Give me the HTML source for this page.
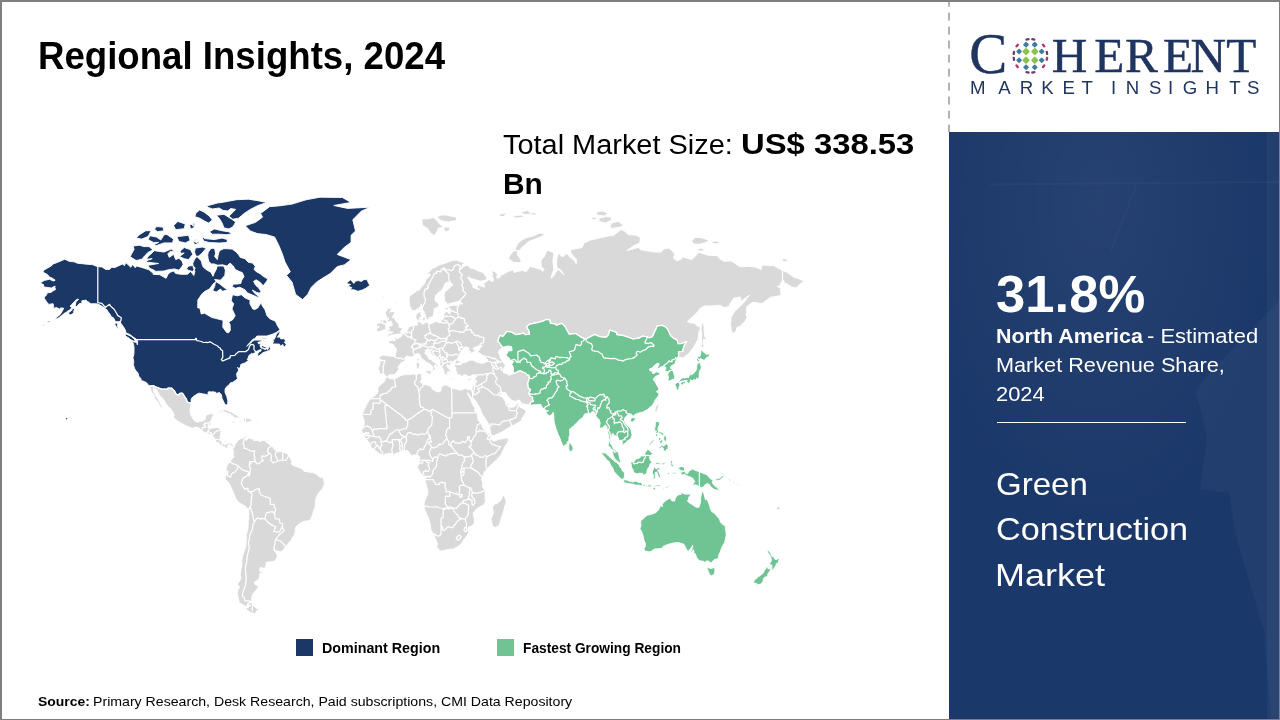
<!DOCTYPE html>
<html lang="en">
<head>
<meta charset="utf-8">
<title>Regional Insights, 2024 - Green Construction Market</title>
<style>
  html,body{margin:0;padding:0;background:#fff;}
  body{width:1280px;height:720px;overflow:hidden;position:relative;font-family:"Liberation Sans",sans-serif;color:#000;}
  .slide{position:absolute;left:0;top:0;width:1280px;height:720px;box-sizing:border-box;background:#fff;overflow:hidden;}
  .frame{position:absolute;left:0;top:0;width:1280px;height:720px;box-sizing:border-box;border-style:solid;border-color:#7f7f7f;border-width:2px 1px 1.5px 2px;pointer-events:none;z-index:9;}
  .t{position:absolute;white-space:nowrap;line-height:1;transform-origin:0 0;margin:0;}
  .b{font-weight:bold;}
  h1.t{font-size:38.3px;font-weight:bold;left:40.5px;top:37px;}
  .panel{position:absolute;left:949px;top:132px;width:331px;height:588px;background:#1b386a;overflow:hidden;}
  .panel svg.tex{position:absolute;left:0;top:0;}
  .panel .t{color:#fff;}
  .divider{position:absolute;left:948.2px;top:2px;width:1.5px;height:130px;background:repeating-linear-gradient(to bottom,#b3b3b3 0,#b3b3b3 8.2px,transparent 8.2px,transparent 14px);background-position:0 -3.4px;}
  .rule{position:absolute;left:997px;top:421.6px;width:189px;height:1.2px;background:#fff;}
  .sw{position:absolute;width:17px;height:17px;top:639px;}
  #map{position:absolute;left:0;top:0;width:1280px;height:720px;}
</style>
</head>
<body>
<div class="slide">

<svg id="map" viewBox="0 0 1280 720" width="1280" height="720" aria-label="World map highlighting North America and Asia Pacific">
<g id="land-other"><path d="M190.1,408.3 190.0,412.2 191.1,415.4 193.6,419.7 194.4,420.7 197.2,422.3 201.0,421.2 202.8,421.1 205.1,419.3 205.5,418.1 205.8,415.7 207.4,414.6 210.6,413.8 212.9,413.8 213.6,414.9 212.1,417.3 212.0,418.5 211.2,422.0 210.5,423.9 209.2,427.3 209.6,428.2 211.0,427.9 213.5,428.0 215.2,427.7 217.3,427.5 218.8,427.9 221.2,429.9 220.8,432.3 220.4,434.7 220.0,437.1 220.1,439.7 221.5,441.9 223.2,443.5 224.8,444.8 228.2,443.5 228.7,443.0 230.5,443.2 232.4,444.4 233.6,445.1 232.4,448.5 231.4,446.5 231.6,445.7 229.0,444.4 228.6,445.1 227.7,445.8 227.1,446.7 228.0,447.9 226.1,448.6 225.6,447.4 224.2,446.6 221.8,446.6 220.9,445.7 220.0,445.2 219.1,443.3 217.6,442.0 217.1,442.9 215.5,441.1 215.3,439.8 215.4,438.9 212.7,436.0 211.6,434.9 212.2,434.0 211.3,434.3 209.8,434.3 207.0,433.4 204.9,432.5 201.9,431.1 201.5,430.6 198.3,427.6 195.5,427.1 192.8,428.3 191.5,427.9 185.5,425.4 182.0,423.5 180.6,422.8 176.1,420.1 173.1,416.8 174.1,416.1 174.0,414.0 171.6,409.8 168.4,406.6 166.0,403.8 164.6,401.0 162.1,397.9 159.8,395.6 158.2,392.8 156.4,389.2 153.7,387.9 153.3,389.9 154.4,393.1 155.5,395.3 158.1,399.4 160.0,402.8 162.3,407.1 164.2,409.2 164.1,410.6 163.5,409.2 159.7,406.3 159.3,405.6 158.4,402.8 156.7,400.8 154.2,398.2 154.6,396.2 152.0,392.7 151.4,391.6 150.0,387.8 148.8,386.0 153.9,385.5 153.7,386.1 161.7,389.1 167.8,389.1 167.8,388.0 171.4,388.0 174.6,390.9 175.9,393.8 178.6,395.2 179.5,393.4 182.3,393.2 183.4,394.3 184.2,395.9 186.4,399.0 187.2,401.8 189.1,402.7 191.4,402.9ZM233.6,445.1 234.8,446.7 234.6,445.2 237.6,441.0 239.1,439.4 240.3,438.8 243.1,438.2 245.8,436.1 246.5,437.6 245.1,439.3 245.9,440.5 247.2,439.5 248.7,438.1 249.3,436.7 249.7,438.3 252.7,439.0 253.6,440.7 255.9,440.5 257.7,440.5 260.6,441.6 261.7,440.8 262.3,440.4 266.6,440.2 265.3,441.4 266.8,442.4 268.7,443.8 270.6,445.4 272.5,446.7 274.6,449.5 276.8,451.7 281.0,451.8 283.4,452.0 287.0,453.9 288.8,455.2 292.0,461.6 291.1,463.5 292.0,464.9 295.4,466.2 297.6,467.0 300.5,468.2 302.8,469.4 304.1,471.5 306.0,471.3 309.4,472.3 312.2,472.2 316.5,474.3 319.0,476.7 323.3,477.8 323.5,479.3 324.4,482.5 324.2,484.6 322.5,488.5 321.0,490.5 319.6,491.6 316.5,496.5 315.4,500.8 315.3,504.8 315.0,508.0 313.9,509.8 312.6,514.2 311.1,518.4 309.0,520.7 306.5,520.9 303.3,521.6 299.8,523.4 295.5,527.3 295.1,532.5 294.5,535.0 292.6,536.9 291.3,539.9 287.5,544.2 284.8,548.4 281.4,551.7 278.7,551.5 275.2,550.3 274.0,549.1 274.1,550.7 276.8,553.0 276.3,554.4 277.7,555.2 275.8,559.9 273.3,561.5 266.1,562.3 266.1,565.4 264.6,568.3 260.0,567.6 259.7,569.6 260.2,571.6 262.9,571.3 262.9,573.1 260.0,573.1 259.8,574.7 258.8,579.3 254.6,582.1 254.6,584.0 258.0,585.8 258.0,587.8 254.2,592.5 252.5,594.6 251.4,599.6 252.8,601.9 250.4,602.1 247.4,603.4 247.4,604.5 246.5,606.9 244.0,605.6 241.8,604.0 239.3,603.1 238.6,599.3 237.6,594.6 237.8,590.0 239.7,587.0 237.3,584.3 239.7,581.1 240.8,578.2 240.3,574.7 240.8,570.4 241.2,568.2 242.0,565.0 241.6,561.2 242.5,556.5 243.5,553.1 245.8,546.4 246.1,541.2 246.4,538.4 246.1,534.8 247.5,531.1 248.0,526.9 248.4,522.5 248.2,521.0 249.0,513.9 248.6,509.7 246.4,507.7 245.0,506.1 240.8,503.7 238.3,502.1 235.9,498.5 234.0,494.2 230.9,487.1 230.0,484.8 228.2,481.9 225.5,479.8 225.6,477.7 225.1,476.7 227.0,473.9 228.0,472.7 228.2,471.3 225.8,470.8 226.4,467.8 226.9,466.5 227.7,464.1 228.7,463.3 230.5,461.3 231.6,459.5 234.1,456.5 233.3,455.7 233.2,452.6 233.5,450.8 232.4,448.5ZM386.0,377.3 387.3,377.0 390.1,378.9 392.4,378.6 394.3,379.2 397.3,377.6 401.4,375.4 405.0,374.6 409.5,374.6 413.5,374.1 416.9,374.2 419.7,373.2 422.1,373.8 421.2,375.7 421.2,377.3 422.1,378.9 419.9,382.1 421.8,383.2 423.1,384.2 426.8,385.0 430.8,386.3 432.1,389.0 437.0,391.8 440.2,391.6 441.3,390.0 441.3,387.1 444.7,385.0 446.8,385.3 449.8,387.1 452.4,388.4 456.8,389.0 460.5,390.4 462.4,389.5 464.7,388.6 467.5,389.2 469.4,389.7 471.5,389.2 473.0,393.9 472.4,396.2 471.7,398.4 470.3,396.7 468.0,392.7 467.6,393.6 469.2,396.8 470.7,399.6 473.0,405.3 475.0,408.1 474.3,410.3 477.3,412.8 477.9,418.7 478.4,420.9 480.9,422.6 482.9,428.5 486.5,431.1 489.7,434.7 491.0,436.2 490.5,438.1 493.1,441.0 494.6,441.0 498.9,439.3 503.1,438.8 508.0,437.6 508.2,441.0 507.0,443.3 504.8,446.9 501.0,454.7 496.7,459.9 495.2,460.9 489.3,466.5 487.1,469.9 484.3,472.0 483.3,475.2 481.4,479.8 482.4,481.7 482.9,484.5 482.4,486.9 485.2,491.0 485.0,496.5 485.4,501.3 483.7,504.7 477.3,508.3 473.0,513.0 474.3,518.4 474.3,523.1 472.2,525.6 468.8,527.1 468.1,528.4 468.8,530.9 467.7,534.8 464.7,538.4 462.6,542.0 458.1,546.4 453.2,549.1 447.7,549.4 441.3,551.2 437.8,548.8 436.8,546.4 437.6,543.8 435.5,538.6 433.8,535.0 431.0,529.9 429.5,520.6 427.2,515.4 423.8,506.9 424.4,501.8 427.2,495.5 428.0,491.7 426.8,486.4 424.8,479.8 423.8,476.9 419.9,472.0 417.2,467.0 418.7,464.7 419.5,461.1 419.3,456.1 417.6,455.0 416.3,454.7 411.4,455.4 409.3,452.8 408.0,450.7 405.9,450.5 403.7,450.5 400.7,451.7 398.2,452.6 394.1,454.5 390.1,453.1 385.8,454.0 382.2,455.2 378.8,453.1 375.6,450.7 371.9,448.1 370.4,445.5 369.4,443.1 367.0,440.0 365.3,437.4 363.0,436.2 363.2,433.5 361.3,430.6 363.4,427.5 364.5,422.4 363.8,419.0 362.2,415.8 362.6,413.3 364.7,408.6 367.7,402.6 371.1,398.0 374.9,395.7 376.8,394.1 378.1,391.6 377.7,388.7 378.8,386.1 382.4,383.2 384.1,382.1 385.2,379.4ZM473.7,384.0 474.3,382.4 475.0,380.9 474.9,378.1 475.8,375.1 475.4,374.3 474.1,375.3 472.4,374.6 470.9,376.0 468.6,376.6 466.9,375.3 464.1,374.5 463.4,376.2 461.7,376.2 460.7,375.0 459.0,374.6 457.0,374.9 457.0,374.1 456.7,373.1 456.7,371.7 454.7,370.5 456.2,370.1 455.8,369.4 455.6,367.8 456.0,367.1 454.2,367.3 454.5,365.8 454.5,365.5 455.8,364.1 454.2,363.9 453.8,363.4 450.6,363.2 449.8,364.7 450.4,365.4 449.7,365.9 449.2,366.0 447.4,364.1 446.8,365.8 447.7,367.5 448.3,368.3 451.0,370.9 449.8,372.3 448.9,371.5 447.7,371.6 448.7,373.0 447.2,372.6 448.1,375.5 447.2,374.6 446.5,375.7 445.7,374.1 445.3,374.8 444.8,374.2 444.0,372.3 444.1,370.8 443.6,370.5 442.9,368.7 441.7,367.2 441.3,366.2 439.8,364.6 440.1,362.2 439.9,360.6 439.3,359.9 438.2,359.1 437.2,358.3 433.7,355.9 432.5,355.2 431.0,354.1 430.4,351.6 429.4,350.6 428.1,351.9 427.4,350.1 428.0,349.7 424.9,350.3 425.4,351.7 424.8,353.3 425.4,354.3 427.4,355.6 428.9,358.9 433.2,360.5 432.5,361.3 434.6,362.6 436.9,364.0 438.1,365.4 437.7,366.4 437.0,365.7 435.3,364.6 433.8,366.6 435.2,368.4 433.9,370.2 432.8,371.5 432.0,371.1 432.4,369.4 433.0,368.6 432.8,367.6 432.0,365.7 430.5,365.1 430.1,364.0 429.0,363.5 427.5,362.5 425.5,361.7 423.7,359.9 422.3,359.1 421.0,357.5 420.6,355.8 419.5,354.3 417.6,353.3 416.7,353.6 415.7,354.8 414.1,355.3 412.8,356.6 411.2,357.1 410.0,356.5 408.4,356.3 406.5,356.2 405.1,357.3 405.1,358.5 405.7,359.3 405.3,360.6 403.2,361.9 401.3,362.7 400.5,363.8 398.6,365.9 397.9,367.3 399.1,369.3 397.6,370.4 397.1,372.3 393.9,374.8 393.4,374.5 391.1,374.8 389.2,374.8 387.2,376.4 386.7,376.8 385.2,375.3 383.8,373.5 381.7,374.1 379.4,374.0 379.7,371.5 378.9,370.2 378.3,369.2 378.5,367.6 379.7,365.4 380.0,362.6 379.7,359.6 378.8,357.6 380.7,356.3 382.2,355.1 386.5,355.8 390.5,356.0 392.2,356.3 394.4,356.4 395.3,355.9 395.9,352.6 396.4,350.0 396.1,348.2 394.8,347.2 394.0,346.0 393.9,344.9 392.0,344.2 389.3,343.3 388.5,342.5 389.0,341.5 388.4,341.7 388.8,340.9 390.1,340.5 392.2,340.2 394.3,340.7 395.4,340.8 395.2,340.2 394.5,337.4 395.9,337.5 396.3,338.6 398.1,338.7 398.8,338.1 399.0,337.5 400.9,336.8 401.9,336.0 402.0,334.3 402.5,333.6 403.7,333.3 404.8,332.8 405.4,332.4 406.3,332.2 407.1,331.0 407.3,330.3 408.7,327.3 410.1,326.5 411.8,325.9 413.4,326.0 414.0,324.9 415.9,325.4 416.8,325.4 417.2,324.4 417.8,324.3 417.5,323.5 417.1,321.0 416.6,319.1 415.9,317.4 416.1,315.0 416.9,313.6 419.8,312.0 421.2,311.5 421.1,312.5 420.6,314.2 421.9,316.0 420.5,316.9 419.5,318.4 419.0,319.0 418.9,321.3 420.2,322.6 422.3,322.6 421.8,324.1 423.0,324.1 424.4,323.4 425.3,322.5 427.8,322.0 428.0,323.6 429.0,324.2 431.8,323.4 434.4,322.1 436.0,321.4 438.7,322.0 438.4,322.7 440.0,322.8 441.0,321.8 441.2,320.8 443.6,318.3 443.4,315.7 444.6,312.7 446.8,311.4 448.1,312.8 449.9,313.9 450.5,311.5 450.9,309.3 448.8,308.2 448.7,307.3 448.6,306.5 449.9,306.0 451.4,305.6 453.6,305.1 455.1,305.4 458.4,305.5 459.2,304.7 460.6,303.9 463.0,303.9 462.0,303.0 459.9,301.2 456.6,301.8 456.1,302.0 453.3,302.6 451.8,303.1 447.6,304.3 446.1,302.1 444.2,300.8 444.5,299.6 444.5,298.0 444.1,295.5 444.6,292.5 446.8,290.2 447.9,289.7 450.8,286.5 452.9,285.2 451.0,282.5 450.1,282.2 448.0,282.2 445.8,283.0 444.5,284.1 443.9,286.5 441.9,290.1 439.1,292.1 436.9,294.2 435.6,295.0 435.2,297.5 435.1,299.0 435.3,301.3 437.8,302.6 438.5,304.5 438.9,306.1 436.9,307.5 435.1,308.3 434.0,308.6 434.1,311.5 433.7,313.1 433.5,315.1 432.8,316.7 431.9,316.9 430.0,317.4 429.1,317.6 429.2,318.9 428.1,319.3 426.6,319.5 425.9,319.4 426.3,318.7 425.7,317.2 425.2,316.4 426.0,315.2 424.7,313.7 424.0,311.6 422.5,309.4 422.4,307.4 421.8,306.5 421.2,304.2 420.9,306.5 420.0,307.1 418.7,307.7 417.3,309.1 415.7,310.2 413.6,310.7 412.6,310.3 411.4,309.1 410.4,308.0 410.3,307.2 409.8,305.8 409.6,304.5 409.2,302.3 408.9,300.1 409.3,298.0 409.6,295.8 411.6,294.8 415.0,292.5 416.7,290.4 419.1,290.2 420.6,288.0 422.5,285.8 424.6,283.5 425.5,281.4 426.3,279.1 429.3,276.4 430.6,274.3 426.3,273.9 429.5,271.8 432.9,268.1 434.9,267.7 438.3,265.2 441.3,264.3 443.4,263.9 447.7,262.2 453.6,260.2 457.7,260.3 459.4,261.8 460.7,261.5 464.9,263.6 462.1,264.9 462.7,266.3 464.3,266.1 466.9,265.4 469.0,266.2 470.1,268.1 473.5,268.5 477.5,270.6 483.4,272.8 486.5,277.3 486.7,279.5 485.0,280.2 480.7,281.2 471.8,278.7 467.7,277.0 469.0,279.5 472.8,285.5 472.8,287.2 476.5,289.1 479.7,289.5 477.5,288.0 477.5,284.7 480.7,285.9 483.5,286.9 485.0,287.0 483.7,283.4 488.8,279.7 492.5,281.4 492.9,281.8 493.5,278.7 492.2,276.7 492.5,273.5 491.0,270.8 494.6,271.4 497.4,274.3 496.7,278.1 499.9,277.7 500.6,275.1 502.7,274.7 507.4,271.8 513.8,269.6 513.6,272.2 514.4,272.6 517.0,271.4 520.8,270.8 522.3,270.2 526.2,271.8 527.2,270.6 529.8,266.5 536.2,268.1 541.3,269.8 542.6,271.4 544.3,269.4 541.5,266.9 541.1,263.1 541.1,260.0 544.5,256.6 545.8,252.5 547.9,250.3 552.2,252.1 553.9,253.4 552.8,260.9 553.9,269.4 552.2,273.5 551.1,278.3 554.3,275.5 556.0,271.4 558.6,269.8 563.9,274.7 560.7,269.8 557.1,268.1 556.4,263.1 557.1,257.4 558.6,253.0 561.8,256.6 565.0,255.7 563.9,253.9 568.2,254.3 569.2,256.6 574.6,260.9 576.1,263.9 576.7,259.6 571.4,253.9 570.3,249.8 582.0,247.5 584.2,242.9 590.6,240.0 601.2,237.6 609.8,235.7 613.0,235.7 621.1,229.6 624.7,231.2 628.3,234.7 636.4,235.2 640.7,238.1 639.6,242.9 633.2,246.1 626.8,250.7 634.3,248.5 638.6,247.5 640.7,249.8 654.3,252.1 661.0,252.1 664.2,248.9 668.4,248.0 672.7,251.2 674.8,254.3 673.5,258.1 677.0,260.9 681.9,258.7 681.9,256.8 688.7,258.7 691.9,259.6 697.2,254.3 698.9,252.5 707.9,255.2 717.5,255.7 719.6,258.7 723.9,261.3 731.3,260.9 739.5,266.4 742.0,266.9 745.2,266.7 748.4,266.4 754.8,266.9 761.2,269.4 761.8,266.4 762.5,264.8 767.6,265.6 773.6,265.6 781.3,269.8 786.8,272.2 794.3,277.5 797.5,278.3 804.5,281.1 801.7,283.0 798.5,285.3 797.0,287.6 797.0,288.1 791.1,286.8 786.8,283.7 784.7,283.4 783.6,280.2 781.0,282.6 779.3,286.4 777.2,286.3 780.4,288.3 781.0,294.7 780.6,295.6 770.8,297.2 766.5,300.1 761.8,303.8 754.8,302.3 752.7,302.6 749.5,304.4 746.9,306.5 746.3,310.6 746.9,311.3 745.9,314.7 747.0,317.4 744.8,321.5 739.9,326.5 737.0,327.2 736.3,330.3 732.8,333.9 731.3,330.3 730.5,323.9 731.1,317.4 733.1,313.7 735.6,310.6 739.7,306.8 743.9,302.3 746.9,298.3 749.9,295.0 745.9,297.6 740.9,301.5 740.5,296.9 733.5,298.3 732.8,299.4 729.2,305.4 729.6,306.5 723.9,307.5 720.3,305.3 716.4,305.4 710.0,306.1 704.0,306.0 699.4,308.9 698.3,311.3 693.4,315.9 687.2,321.7 690.8,323.0 694.4,323.3 697.9,326.5 699.8,326.5 700.2,329.7 698.9,332.1 697.9,339.6 695.1,344.8 693.2,347.7 690.4,351.6 687.6,354.5 683.4,357.6 682.1,357.9 679.9,357.1 677.6,358.3 677.3,359.3 677.2,359.1 678.7,355.9 678.4,351.9 680.2,351.6 682.5,351.3 684.4,344.8 686.8,341.5 685.9,341.8 681.2,343.6 678.0,343.6 677.0,339.9 673.8,338.4 670.6,335.8 667.4,328.7 665.2,326.8 662.2,325.4 659.5,325.6 656.7,326.2 656.3,328.4 654.6,331.6 653.1,335.3 652.4,336.6 649.0,337.8 647.5,337.0 642.8,336.0 639.6,337.8 633.2,339.0 626.8,336.6 622.6,335.3 616.8,334.7 616.6,332.5 609.8,330.0 608.3,335.0 606.1,337.2 599.7,336.6 594.8,334.4 589.9,336.9 585.9,339.0 584.8,339.0 580.3,336.6 575.6,333.5 569.2,334.1 564.8,326.2 561.8,323.3 556.4,325.2 555.4,323.9 550.5,323.3 549.6,319.7 545.8,319.4 544.1,320.7 537.2,322.6 530.8,323.9 529.1,324.3 526.6,327.2 528.7,330.3 529.6,334.1 525.5,334.7 523.6,333.2 515.9,334.7 512.7,332.8 510.6,331.9 507.0,331.3 502.7,336.6 499.9,335.3 498.6,338.7 497.8,341.5 499.7,343.3 502.1,346.9 503.0,347.2 499.5,350.1 498.4,353.0 499.9,355.3 500.1,357.6 502.5,360.8 504.2,364.1 505.9,365.0 503.8,367.8 502.9,370.2 503.1,372.4 505.9,373.5 509.1,375.1 511.6,374.5 513.6,373.2 513.6,373.1 513.6,373.1 515.5,373.0 518.5,371.1 520.8,370.8 523.4,372.4 525.1,372.7 527.4,375.1 529.0,375.1 529.1,377.8 528.5,381.3 527.6,382.9 528.5,388.7 530.4,389.0 530.3,390.5 528.4,393.0 530.4,396.2 532.6,397.2 532.6,399.8 533.6,401.3 531.5,401.8 530.5,402.3 530.0,404.8 530.0,405.1 527.9,404.6 521.8,403.7 520.2,400.8 518.7,399.9 515.7,401.4 512.3,400.5 509.6,398.2 507.1,395.3 505.6,392.5 502.9,392.6 502.2,392.7 501.0,392.7 500.8,394.3 501.0,394.2 501.8,396.3 502.1,396.7 504.5,400.3 505.7,401.7 505.7,403.8 507.0,406.0 506.8,404.1 507.8,402.4 508.6,404.6 508.7,406.3 510.8,407.5 514.5,406.7 516.4,404.7 518.0,403.1 518.9,401.9 518.8,405.1 519.6,407.0 523.6,408.8 526.2,411.5 523.8,416.0 521.7,418.6 521.9,420.2 518.7,422.4 514.0,425.1 509.9,427.0 503.3,431.1 498.9,433.5 494.6,435.2 491.3,435.6 490.9,434.0 490.2,430.4 489.4,425.3 486.2,420.0 482.1,414.0 479.8,407.6 476.3,402.2 474.7,399.4 472.4,397.7 473.3,393.9 473.0,393.9 471.5,389.2 472.0,388.7 472.7,387.3 473.3,385.3ZM457.3,364.8 460.2,364.7 462.4,363.7 460.5,363.0 458.3,363.0 456.8,363.7 455.6,364.7ZM460.7,362.3 465.1,362.7 469.6,360.2 473.5,360.2 476.5,362.2 480.7,363.2 484.3,363.0 487.3,361.3 487.3,359.3 484.6,357.1 481.8,354.8 480.1,353.3 478.4,352.4 476.9,351.3 478.8,350.4 480.1,348.3 482.2,345.4 479.7,345.4 477.1,346.6 473.7,347.7 473.0,349.2 476.5,350.8 474.1,351.6 472.2,352.7 470.1,353.3 470.3,351.3 467.9,350.4 469.4,348.3 466.6,346.9 464.3,347.2 462.6,349.2 461.7,351.0 460.0,353.0 459.6,355.6 458.1,356.8 457.7,358.8 458.3,360.2 459.4,361.6ZM528.1,266.0 530.0,266.2 529.8,266.5ZM252.3,602.8 253.3,605.0 254.2,606.6 256.8,608.6 259.7,609.4 256.8,610.7 255.0,613.8 250.4,612.2 247.2,610.2 245.0,608.6 248.7,607.3 249.3,605.6 250.8,605.3 248.4,605.0 248.2,603.4 250.4,602.5ZM266.6,440.2 268.7,439.9 268.5,441.6 266.6,441.8ZM503.8,494.1 506.3,502.2 504.8,506.1 504.0,509.8 501.6,517.2 499.1,525.6 495.0,527.4 492.5,525.9 491.0,518.9 493.3,513.5 492.5,507.3 494.4,504.2 497.4,503.2 500.8,500.3 502.5,497.4ZM386.4,336.4 387.7,335.3 388.9,333.4 392.2,332.8 392.8,331.8 391.8,332.1 390.1,331.7 387.3,330.7 389.9,329.1 388.5,327.8 388.7,326.2 390.4,326.1 392.1,325.7 392.4,323.6 390.9,322.3 391.3,321.0 388.3,321.9 387.6,320.7 388.7,319.2 388.5,317.5 386.3,319.7 386.7,317.4 386.9,316.0 385.3,314.9 386.2,314.0 385.2,312.3 386.2,311.1 387.9,308.5 391.4,308.3 392.2,308.4 392.0,309.1 390.8,310.2 389.6,312.3 391.6,311.6 394.3,311.6 394.8,312.3 394.2,313.5 393.4,315.0 393.1,316.4 391.8,317.4 393.3,317.4 394.3,318.1 395.6,320.7 396.1,321.8 397.3,322.3 398.4,323.5 398.9,325.3 399.3,326.7 398.8,327.5 399.7,327.3 401.4,327.4 402.3,328.8 401.5,330.5 400.2,331.8 401.7,332.3 401.5,333.1 400.7,333.7 399.1,334.3 398.3,334.0 396.9,334.3 395.8,334.8 394.5,334.3 393.4,335.0 391.3,334.7 390.8,335.9 389.7,335.5 387.5,336.7ZM382.9,319.4 385.5,320.0 386.4,321.7 387.0,322.6 385.2,323.9 385.6,326.0 385.8,327.3 385.0,329.8 383.8,330.0 381.0,331.0 377.7,332.1 376.3,330.0 377.4,328.6 379.4,326.7 376.8,325.9 376.8,324.0 377.3,323.0 380.3,323.0 381.1,322.0 379.8,321.8 380.9,320.2ZM434.2,235.4 430.6,233.2 427.8,228.7 422.1,225.1 422.1,221.9 421.6,219.0 428.5,218.8 433.4,217.4 437.0,220.4 439.1,223.5 443.4,227.1 438.1,228.2 437.6,230.7 435.5,233.7ZM437.4,216.6 441.3,215.0 446.6,215.0 450.9,216.1 456.6,217.1 456.2,220.4 448.7,221.9 442.3,220.9 438.7,219.3ZM444.0,227.1 448.7,227.1 450.2,229.2 446.6,231.7 444.0,230.7ZM514.4,250.7 512.3,252.5 509.5,256.1 508.4,258.3 511.6,260.9 513.1,262.2 517.0,262.6 521.2,262.6 520.6,259.6 517.6,255.2 517.0,252.5 519.1,251.0ZM514.8,250.3 519.3,250.7 521.9,247.5 525.5,244.3 528.7,241.4 535.1,239.1 541.5,236.6 545.6,233.4 539.4,233.2 533.0,236.1 526.6,237.6 521.2,240.5 517.6,243.8 515.9,247.5ZM779.8,260.9 783.6,258.5 787.9,259.6 787.4,261.3 782.5,261.8ZM703.0,322.6 704.3,327.2 704.0,330.3 704.9,336.6 707.4,340.7 703.8,339.0 703.2,342.7 703.2,344.8 704.6,348.6 703.2,346.9 701.7,348.9 701.2,346.3 701.6,345.5 701.7,341.2 701.5,338.1 701.8,333.8 701.1,330.3 701.2,326.2 702.1,323.3ZM657.9,404.6 658.8,405.3 658.1,407.8 657.1,411.0 656.4,413.1 655.1,411.3 654.8,410.1 655.6,407.1 656.6,405.7 657.1,405.1ZM217.4,413.1 219.4,412.1 221.1,410.5 222.8,410.0 225.4,409.8 228.0,410.6 230.1,411.8 231.4,411.8 233.9,413.8 236.3,414.9 237.3,415.9 239.7,416.9 240.5,417.1 238.4,418.0 236.8,417.8 232.8,418.1 234.1,416.9 233.1,416.0 231.2,415.3 230.4,413.8 228.0,413.4 227.0,412.7 224.8,412.3 223.1,411.1 220.7,412.3 218.8,413.1ZM242.0,418.2 244.6,418.3 245.8,418.0 247.8,418.2 249.5,418.6 251.1,419.5 251.4,420.2 252.9,421.2 251.5,421.7 249.5,421.5 248.0,422.2 246.9,422.2 246.3,423.6 245.6,422.6 243.9,422.2 241.3,422.3 239.8,421.8 240.5,421.1 242.9,421.4 244.3,421.3 243.5,420.0 243.5,419.1ZM231.5,421.9 232.4,421.4 234.6,421.7 236.1,422.6 234.6,423.0 232.9,423.0 231.8,422.3ZM255.3,421.4 258.7,421.7 258.4,422.6 255.3,422.8ZM425.2,371.6 427.1,370.8 431.8,370.6 430.8,372.7 431.2,373.9 430.8,375.0 428.9,373.9 427.5,373.2 425.5,372.5ZM416.1,363.3 418.2,362.3 419.4,363.3 419.4,365.8 419.0,368.2 417.5,368.9 416.5,368.6 416.6,366.1 416.0,364.1ZM418.7,357.3 419.0,359.9 418.3,362.0 417.2,360.5 416.9,359.1 417.3,358.6 418.4,358.2ZM448.8,378.0 450.0,378.0 452.2,378.5 454.7,378.6 454.3,379.4 451.4,379.6 448.9,378.8ZM467.5,379.2 469.6,378.5 472.4,377.6 471.0,379.2 471.3,379.6 470.4,379.7 469.0,380.6 467.7,380.1ZM403.6,366.9 405.2,365.9 406.0,366.6 405.2,367.8 404.1,367.5ZM422.3,318.4 423.8,317.5 425.5,317.0 425.6,318.7 424.6,320.2 423.6,320.8 422.5,320.0ZM419.4,319.0 421.0,318.7 421.7,319.7 421.2,320.5 419.7,320.3ZM437.3,314.0 438.5,311.0 439.8,310.8 438.9,313.0 437.8,314.4ZM445.2,309.6 446.0,307.5 447.7,307.2 448.3,308.6 447.2,309.9 445.5,310.6ZM512.3,435.7 514.8,435.7 514.6,436.3 512.7,436.3ZM395.2,303.7 396.5,300.8 396.9,302.3 396.0,304.0ZM382.8,296.1 384.9,295.2 384.3,298.3ZM498.9,214.4 506.3,212.8 504.2,216.6 499.9,216.6ZM511.6,216.1 521.2,215.0 524.4,217.1 515.9,218.2ZM520.2,212.2 527.6,210.5 531.9,213.9 524.4,214.4ZM530.8,212.2 537.2,213.3 535.1,215.0 531.9,215.0ZM611.9,228.4 620.4,227.1 623.6,225.1 618.3,221.4 611.9,223.0 609.8,226.6ZM599.1,221.4 605.5,223.0 611.9,219.8 610.8,217.1 605.5,216.6 599.1,218.2ZM597.0,215.0 604.4,216.1 607.6,213.3 602.3,210.8 595.9,212.2ZM591.2,219.3 595.9,219.8 596.5,217.7 592.7,217.1ZM691.5,241.0 695.1,237.4 700.4,237.6 704.7,238.8 709.0,240.5 705.8,242.6 699.4,244.3 694.0,244.0ZM711.1,241.4 716.4,241.0 720.3,242.4 716.4,244.0 712.2,243.1ZM696.6,250.1 700.4,248.0 704.7,249.4 702.1,251.2 698.3,250.7ZM231.4,401.0 233.1,401.3 232.4,401.8ZM233.9,401.5 234.4,402.8 233.7,402.8ZM231.8,405.1 232.9,407.1 231.6,406.8ZM237.6,407.1 238.0,407.6 237.3,407.6ZM241.4,415.0 242.9,415.0 242.3,415.5Z" fill="#d9d9d9" fill-rule="evenodd" stroke="#fff" stroke-width="0.9" stroke-linejoin="round"/></g>
<g id="land-north-america"><path d="M56.3,317.4 60.3,314.4 62.9,309.9 63.7,308.2 60.5,307.9 59.7,309.2 56.5,307.5 52.6,308.6 53.7,306.8 53.1,303.7 48.8,304.4 46.7,301.9 44.3,298.3 44.3,297.2 46.7,294.7 47.1,292.8 50.9,292.5 52.8,291.0 55.6,289.5 54.8,287.6 55.2,286.1 51.3,288.0 45.8,287.2 43.7,286.8 43.5,284.5 40.0,283.0 44.3,280.4 49.6,279.3 53.3,281.0 55.2,280.2 51.8,277.9 49.4,277.1 47.7,274.7 42.8,272.0 44.1,269.9 50.9,266.2 53.3,263.9 57.3,262.4 64.8,259.2 69.1,261.3 74.0,261.8 77.6,263.3 82.3,263.7 87.2,264.3 92.3,264.6 97.8,266.7 101.9,266.9 105.7,269.4 109.6,269.4 111.7,267.3 114.9,267.5 122.4,264.1 124.5,265.6 125.8,262.6 130.9,267.3 132.6,264.3 135.2,267.7 136.5,266.0 142.6,267.7 149.0,269.8 153.3,273.5 153.1,274.3 159.7,274.7 166.1,278.3 168.2,273.9 170.4,272.2 173.6,271.0 175.7,273.5 181.0,274.3 187.4,274.3 190.6,271.4 193.8,275.5 194.9,271.4 193.2,267.3 192.8,263.1 194.9,258.7 197.0,256.6 201.3,260.9 202.4,265.2 203.4,267.3 207.1,270.2 210.9,272.2 213.0,276.3 214.1,273.5 216.2,269.4 217.3,266.0 223.7,266.0 225.4,270.2 224.8,275.5 220.5,280.2 214.7,279.5 216.2,281.4 213.0,284.1 209.8,288.7 205.1,291.3 202.2,293.6 197.9,299.8 197.7,307.9 199.8,307.9 201.3,314.0 204.5,313.2 211.7,317.4 223.1,320.3 222.8,327.2 226.7,332.5 228.6,332.8 230.3,330.3 230.1,324.6 228.6,322.0 232.7,319.7 235.2,315.7 232.0,308.9 233.7,303.7 231.2,300.8 232.4,294.7 237.3,295.8 241.4,294.7 245.2,298.0 250.1,300.1 249.9,303.7 252.7,308.9 254.6,309.6 257.8,307.9 261.2,302.3 262.1,305.4 265.1,309.9 267.0,315.7 270.2,319.0 275.1,321.0 276.4,323.3 277.0,324.9 280.0,329.7 276.8,332.2 272.8,334.1 266.8,336.0 257.0,336.0 254.8,338.7 253.3,339.0 249.9,342.4 246.7,346.3 250.4,343.3 252.5,341.3 254.6,340.1 261.7,340.1 261.7,341.2 257.8,342.4 258.7,343.9 261.0,342.7 260.0,345.4 261.0,348.0 262.5,348.3 264.9,349.5 266.6,348.9 267.6,349.8 269.8,345.7 270.2,348.0 270.8,348.9 268.5,350.7 262.9,352.7 258.7,356.2 257.6,355.0 258.2,352.7 261.2,350.7 261.0,349.5 257.6,350.8 255.7,351.9 254.8,352.7 252.9,353.9 251.8,353.3 248.9,355.5 248.0,358.3 247.2,359.2 247.9,360.3 248.2,360.9 248.9,360.0 249.4,361.1 248.0,361.5 246.5,361.7 246.1,362.0 245.2,362.9 241.2,364.2 240.8,364.6 240.5,366.5 239.9,367.6 238.7,368.8 237.5,367.2 238.4,369.1 238.5,370.4 237.9,371.6 236.6,373.7 236.5,374.2 237.5,378.8 235.4,380.5 232.3,382.5 230.3,382.9 229.3,384.8 228.2,385.4 226.0,387.4 225.0,389.6 225.0,391.7 225.2,392.8 226.8,396.6 227.9,401.0 227.7,403.4 227.1,404.8 225.6,405.0 224.3,403.2 224.1,402.4 223.3,401.0 222.2,398.7 221.9,397.7 221.5,394.8 219.4,392.5 216.4,393.4 215.8,392.3 212.6,391.7 210.9,392.0 209.0,391.6 207.9,392.5 208.4,395.2 206.6,394.5 203.9,394.0 202.4,393.8 199.6,393.2 198.4,393.4 196.4,394.4 195.2,395.3 193.0,396.7 191.3,398.7 191.0,401.3 191.4,402.9 189.1,402.7 187.2,401.8 186.4,399.0 184.2,395.9 183.4,394.3 182.3,393.2 179.5,393.4 178.6,395.2 175.9,393.8 174.6,390.9 171.4,388.0 167.8,388.0 167.8,389.1 161.7,389.1 153.7,386.1 153.9,385.5 148.8,386.0 148.5,385.5 147.5,383.6 146.1,382.8 145.8,382.1 144.6,381.8 143.3,381.1 141.6,380.9 141.3,380.6 140.8,378.5 138.6,376.0 138.6,375.1 138.4,374.2 137.3,371.9 136.2,371.3 134.7,368.7 133.3,364.6 133.7,363.6 133.7,360.9 132.9,357.8 133.5,356.3 134.0,352.7 134.0,347.9 133.9,346.0 132.6,341.5 135.4,342.3 136.7,342.4 137.3,344.8 137.7,342.1 137.3,340.4 136.8,339.6 135.8,338.7 132.9,337.0 131.5,335.6 128.8,333.9 126.0,332.9 125.3,329.9 123.7,327.2 120.7,323.0 120.0,321.7 117.0,321.7 115.6,321.8 113.4,317.7 111.3,316.8 109.9,313.9 107.9,311.6 107.1,309.9 105.1,308.5 100.4,305.3 97.0,303.8 91.7,303.7 90.6,303.7 89.3,302.4 87.7,301.7 86.1,300.1 81.8,300.8 82.0,303.8 79.9,303.3 76.6,306.5 74.7,306.6 75.5,304.9 75.9,301.7 78.7,299.4 77.4,299.2 76.1,299.9 75.0,301.2 73.7,302.3 73.1,303.0 71.6,304.7 70.1,306.0 71.7,307.7 69.5,310.3 68.0,310.8 65.9,312.7 65.0,312.8 60.7,316.4 58.4,317.9 55.2,319.4ZM135.5,341.4 134.2,339.0 131.4,336.5 126.9,334.3 124.7,334.2 125.8,336.3 128.5,337.8 130.1,339.2 131.8,340.2 133.3,341.0ZM117.8,323.3 117.5,326.4 119.2,330.5 116.6,327.2 114.8,324.3 114.9,323.1ZM73.5,308.6 74.5,309.6 73.5,311.3 74.1,312.0 72.5,314.0 70.1,314.9 69.5,314.5 68.4,313.0 69.2,312.1 71.0,311.1 71.8,310.3 72.0,309.1ZM49.9,320.7 46.9,321.8 47.5,322.6 50.3,321.7ZM44.1,323.9 42.2,325.6 42.6,326.0 44.3,324.7ZM279.4,331.6 280.2,331.6 279.2,334.4 277.4,337.2 279.6,336.9 280.9,338.9 284.3,338.7 285.6,340.9 284.3,342.4 286.2,344.2 285.3,346.7 284.3,346.6 283.2,346.1 283.0,344.5 281.3,345.7 279.4,346.0 279.8,344.2 277.4,344.0 272.1,343.9 273.8,341.2 272.3,341.2 274.2,339.2 275.1,337.8 276.2,334.7 277.7,332.5ZM261.0,336.9 266.4,338.4 267.0,339.3 263.2,338.6ZM261.2,346.6 262.3,345.7 266.4,347.3 265.3,348.6 262.5,347.9ZM260.2,297.6 256.8,296.9 249.5,293.7 247.2,292.8 245.0,289.8 239.7,287.2 235.4,288.3 232.2,286.8 233.3,284.1 236.9,284.1 240.8,283.4 241.6,280.2 244.0,276.7 242.3,272.6 239.1,271.4 235.2,269.4 233.3,266.0 230.1,263.1 226.9,266.0 222.6,264.8 217.7,265.2 214.1,263.9 211.3,263.9 208.8,261.3 208.1,258.3 207.7,255.2 208.3,252.1 210.9,248.5 214.5,248.2 215.6,253.0 214.7,256.6 217.3,259.6 218.1,255.2 219.4,250.7 223.7,248.7 226.9,248.7 232.2,249.1 236.3,252.1 238.6,254.8 240.3,257.4 245.0,258.7 248.2,262.2 252.7,263.1 255.3,266.4 254.0,269.4 256.1,271.4 260.4,273.9 263.2,276.3 267.8,279.1 266.6,281.4 263.2,285.7 260.0,282.2 256.1,279.8 253.6,281.4 255.7,285.3 258.7,288.0 260.8,291.3 260.0,293.2 256.8,292.5 252.3,290.0 254.6,293.2 257.8,295.8ZM155.7,271.4 164.0,271.0 168.2,269.8 174.4,268.9 178.9,270.2 181.7,266.9 183.2,264.3 181.9,260.9 178.9,258.3 175.7,259.6 173.6,254.3 169.3,257.4 167.8,253.9 170.4,251.2 174.6,252.1 171.4,248.9 164.0,252.1 154.4,250.7 148.0,256.6 146.3,259.2 152.2,258.7 145.8,260.9 147.4,262.2 158.6,263.5 148.4,265.2 148.4,266.4 150.1,268.5 153.3,269.8ZM130.1,256.8 136.2,260.5 141.8,259.2 144.8,255.7 148.0,252.5 152.9,249.8 149.0,246.6 143.7,246.6 139.4,245.2 133.0,246.1 134.1,249.4 132.0,253.0ZM155.9,245.7 164.0,242.9 172.5,242.9 173.6,239.1 167.2,234.7 165.0,234.2 162.9,236.6 160.8,240.0 156.5,237.1 150.1,235.7 148.0,239.5 153.3,242.4 158.6,242.4 154.4,244.3ZM136.2,238.1 141.6,239.1 148.0,236.6 151.2,230.7 145.8,230.7 139.4,234.7ZM185.3,242.9 190.2,240.5 188.5,235.2 182.1,236.1 176.8,236.6 178.9,241.4ZM194.9,244.7 199.2,242.9 197.0,240.0 192.8,241.4ZM201.7,235.7 204.6,238.6 214.3,239.6 222.1,238.1 227.4,239.6 226.9,242.5 219.2,243.0 209.4,242.5 203.6,241.0ZM196.4,256.3 198.5,256.1 201.7,253.4 204.1,250.7 206.2,248.2 202.4,247.1 195.3,248.0 194.5,252.1 195.5,254.8ZM188.5,259.6 192.8,254.3 190.6,249.8 184.2,247.5 180.0,251.2 181.0,253.4 184.2,253.0 179.5,256.6 184.2,258.7ZM192.8,271.4 195.3,268.1 192.8,265.6 188.5,266.0 186.4,268.9 188.9,270.6ZM216.2,281.8 219.4,283.7 224.8,288.0 227.5,289.8 222.6,291.3 220.5,289.1 216.2,292.1 212.6,290.6 214.7,286.4 215.2,283.4ZM206.5,206.0 217.2,203.1 224.0,202.1 236.6,199.7 248.3,199.2 258.0,200.7 266.8,202.6 258.0,205.5 250.3,209.4 244.4,213.3 238.6,218.2 232.8,219.2 228.9,216.2 232.8,212.4 235.7,209.4 230.8,208.5 227.9,210.9 223.0,210.4 219.2,208.0 212.4,208.9 208.5,207.5ZM195.8,213.3 199.7,209.9 204.6,212.4 209.4,216.2 212.4,220.1 208.5,223.0 204.6,221.1 199.7,218.2 194.9,216.7ZM175.7,229.7 184.2,228.7 185.3,224.0 177.8,221.4 173.6,225.6ZM190.6,229.2 194.9,227.1 192.8,224.0 189.6,225.1ZM157.6,231.7 164.0,230.7 162.9,227.1 156.5,226.6 154.4,229.2ZM302.5,299.6 295.6,294.4 292.1,282.2 286.5,275.3 290.3,271.8 285.0,262.0 282.5,254.4 279.0,245.8 274.7,237.1 266.0,234.5 257.4,233.6 250.4,231.0 245.2,225.8 255.6,222.3 262.6,217.1 260.5,213.5 269.5,206.7 279.9,205.8 292.1,204.1 306.0,199.8 319.9,197.2 342.4,197.5 351.1,202.4 333.8,205.5 347.6,208.4 370.2,207.2 361.5,211.0 352.8,219.7 355.5,231.0 351.1,235.3 351.1,242.3 344.2,247.5 337.2,254.4 351.1,259.7 344.2,264.9 337.2,266.6 330.3,273.5 321.6,278.8 316.4,282.2 311.2,287.4 307.7,294.4ZM350.2,289.8 353.8,289.8 358.1,291.3 362.3,290.0 366.2,288.1 369.8,285.3 367.7,281.4 367.5,279.8 364.0,279.5 361.3,281.4 358.5,280.6 355.5,281.0 353.8,283.4 350.6,279.7 347.4,282.2 346.3,283.4 350.6,284.5 347.4,285.9 351.7,287.6ZM66.1,417.3 68.0,418.4 66.7,420.3 65.7,418.7ZM64.4,415.4 65.9,415.9 65.0,416.3ZM61.1,414.0 62.2,414.3 61.5,414.7ZM57.9,412.6 58.7,412.4 58.4,413.1ZM224.0,214.3 231.8,219.2 235.7,222.1 232.8,226.9 228.9,228.9 224.0,227.9 222.1,223.0 219.2,218.2 216.2,215.3 220.1,214.8ZM209.4,231.8 214.3,228.9 222.1,230.8 228.9,231.8 231.8,233.7 226.9,234.7 219.2,234.2 212.4,234.2ZM193.9,239.8 196.5,239.4 198.7,241.0 197.0,242.6 194.2,241.8ZM192.2,223.2 194.6,223.6 194.9,225.8 192.8,226.0Z" fill="#1b3766" fill-rule="evenodd" stroke="#fff" stroke-width="0.9" stroke-linejoin="round"/></g>
<g id="land-asia-pacific"><path d="M675.5,360.9 675.3,363.4 670.8,366.4 670.5,368.2 672.4,369.7 672.9,370.8 673.5,372.0 674.6,376.6 674.6,378.1 674.0,379.2 671.6,379.7 671.0,380.3 668.4,381.3 668.0,380.0 668.5,376.8 667.6,374.6 668.6,372.8 666.7,371.5 664.5,371.1 665.7,369.4 665.7,367.2 663.9,366.2 661.0,366.9 658.0,368.9 656.9,369.3 657.8,367.2 659.3,364.0 658.6,363.3 656.7,363.6 653.7,366.0 652.2,368.2 649.8,368.7 649.7,370.5 652.9,372.0 652.4,373.5 654.3,373.2 656.2,371.8 660.3,373.0 659.8,374.3 655.4,376.6 653.6,378.4 653.3,380.1 655.2,381.6 656.5,384.8 658.6,388.2 658.7,390.0 656.7,391.2 656.3,391.8 658.6,392.8 658.7,394.9 658.0,396.4 656.7,397.9 655.4,399.8 653.8,402.7 652.2,405.7 650.5,406.7 647.6,409.5 644.7,411.0 642.3,412.2 640.8,412.4 637.4,413.4 634.3,414.9 633.7,417.1 632.7,415.5 631.3,414.2 629.7,413.8 629.0,414.0 626.4,415.9 624.5,418.4 624.2,420.9 625.7,422.9 626.1,424.0 628.1,426.2 629.5,427.3 630.9,429.7 631.6,432.9 632.1,435.0 631.5,436.5 631.1,438.2 629.2,439.8 627.0,441.1 626.2,442.6 625.1,443.3 622.0,445.2 622.2,442.9 622.7,441.9 621.4,441.0 620.9,440.6 619.4,440.5 618.1,438.0 617.3,436.8 616.4,436.1 614.7,435.6 613.8,435.7 613.7,434.9 613.1,433.5 611.9,434.0 611.8,435.8 611.5,437.6 610.3,440.8 610.5,443.8 612.1,445.7 613.2,448.6 614.7,449.3 615.8,450.5 616.7,450.9 618.6,453.0 619.2,456.6 620.1,459.9 621.0,462.3 620.1,462.6 619.4,462.6 616.7,460.4 615.7,459.7 614.8,458.5 613.2,455.7 612.6,452.8 612.5,451.2 611.9,450.1 610.8,448.3 609.6,446.6 608.3,447.1 608.3,446.2 608.2,445.2 608.9,442.0 608.9,436.1 608.1,433.5 607.2,429.3 606.8,426.4 605.3,425.1 604.0,426.2 602.1,428.1 600.4,427.9 599.5,427.5 599.8,425.1 600.2,422.6 599.7,421.5 599.1,419.5 596.8,417.4 595.5,415.7 594.7,414.2 594.4,412.1 592.3,411.6 590.6,413.1 588.4,413.7 586.4,413.6 585.2,413.8 584.1,414.5 583.5,417.1 581.7,418.2 579.7,419.6 576.3,423.4 574.1,425.2 574.1,426.3 571.7,427.1 571.2,428.1 569.5,429.2 569.6,431.4 569.9,434.5 568.9,437.3 568.9,440.1 568.9,441.2 568.0,441.2 567.1,442.5 567.7,443.6 565.3,444.8 564.0,446.5 562.7,445.5 561.2,442.0 560.2,438.9 558.3,435.0 556.7,430.4 556.0,428.7 554.9,425.1 553.9,420.3 553.9,416.8 553.5,413.6 553.2,412.3 552.6,413.4 550.0,416.0 548.7,415.5 547.1,413.7 545.7,412.2 548.5,410.6 546.5,410.8 544.1,408.7 542.6,408.1 541.5,405.8 540.7,404.3 536.5,404.8 533.9,404.7 531.5,405.1 530.3,405.2 530.0,405.1 530.0,404.8 530.5,402.3 531.5,401.8 533.6,401.3 532.6,399.8 532.6,397.2 530.4,396.2 528.4,393.0 530.3,390.5 530.4,389.0 528.5,388.7 527.6,382.9 528.5,381.3 529.1,377.8 529.0,375.1 527.4,375.1 525.1,372.7 523.4,372.4 520.8,370.8 518.5,371.1 515.5,373.0 513.6,373.1 513.6,373.1 513.4,367.5 511.6,364.1 513.8,361.6 511.0,361.3 509.1,357.9 507.2,356.8 505.9,353.6 507.4,353.3 508.0,351.0 512.1,350.7 511.6,346.6 507.4,346.0 503.1,347.2 503.0,347.2 502.1,346.9 499.7,343.3 497.8,341.5 498.6,338.7 499.9,335.3 502.7,336.6 507.0,331.3 510.6,331.9 512.7,332.8 515.9,334.7 523.6,333.2 525.5,334.7 529.6,334.1 528.7,330.3 526.6,327.2 529.1,324.3 530.8,323.9 537.2,322.6 544.1,320.7 545.8,319.4 549.6,319.7 550.5,323.3 555.4,323.9 556.4,325.2 561.8,323.3 564.8,326.2 569.2,334.1 575.6,333.5 580.3,336.6 584.8,339.0 585.9,339.0 589.9,336.9 594.8,334.4 599.7,336.6 606.1,337.2 608.3,335.0 609.8,330.0 616.6,332.5 616.8,334.7 622.6,335.3 626.8,336.6 633.2,339.0 639.6,337.8 642.8,336.0 647.5,337.0 649.0,337.8 652.4,336.6 653.1,335.3 654.6,331.6 656.3,328.4 656.7,326.2 659.5,325.6 662.2,325.4 665.2,326.8 667.4,328.7 670.6,335.8 673.8,338.4 677.0,339.9 678.0,343.6 681.2,343.6 685.9,341.8 686.8,341.5 684.4,344.8 682.5,351.3 680.2,351.6 678.4,351.9 678.7,355.9 677.2,359.1 677.3,359.3ZM701.4,350.0 706.4,354.5 708.6,353.5 709.6,356.3 706.6,357.5 704.2,360.4 700.6,358.5 699.4,359.3 697.9,358.8 699.8,360.8 697.6,361.9 696.8,359.6 698.0,356.3 699.8,356.6 700.6,354.6 700.8,351.6ZM699.1,361.5 700.3,361.9 700.5,364.3 701.4,366.8 700.5,370.5 699.4,370.8 699.2,374.1 699.1,377.6 696.9,379.7 696.8,377.8 696.5,379.0 694.8,380.5 694.0,379.3 693.4,380.5 690.9,380.6 690.3,379.6 690.6,381.3 688.2,383.6 686.8,381.6 687.2,380.4 686.6,380.4 684.3,380.8 681.1,381.3 678.9,382.2 677.8,382.2 678.9,380.9 680.4,379.7 681.5,378.3 682.9,377.8 684.8,378.0 687.0,377.4 688.8,377.6 688.6,376.8 690.0,375.1 690.2,373.2 691.5,372.6 690.8,374.6 691.7,374.7 693.5,373.5 695.2,371.5 696.8,368.9 696.6,365.9 697.2,365.3 697.0,364.1 698.0,362.3 698.8,363.4 699.6,362.7ZM685.8,381.5 684.8,384.1 683.5,383.4 682.3,385.5 681.1,384.2 680.2,383.8 681.6,382.5 682.3,381.8 684.5,381.2ZM677.9,382.2 679.6,383.0 679.5,384.1 680.2,385.2 679.5,385.8 679.0,387.6 678.8,389.1 677.3,390.0 676.5,389.3 676.1,388.9 676.3,387.4 675.9,386.6 675.4,385.9 674.7,383.8 675.8,383.4 676.7,383.0ZM633.9,417.6 635.5,418.6 634.4,420.7 632.2,422.2 630.4,421.4 630.4,420.0 631.5,418.1 632.6,417.7ZM569.8,442.3 571.9,445.3 572.9,447.4 573.2,449.0 571.6,451.2 570.5,451.6 569.7,451.3 568.9,449.2 568.7,446.7 569.0,444.3 569.1,442.5ZM655.8,421.3 658.1,421.8 659.1,421.3 659.5,424.3 658.0,427.5 658.0,430.2 658.8,431.8 661.0,432.0 663.1,432.6 663.4,434.7 663.3,435.8 662.2,435.6 660.5,433.3 660.1,434.3 658.2,432.6 656.7,433.3 655.8,432.7 656.5,431.1 655.6,431.4 655.0,430.4 654.3,428.0 654.1,426.7 655.2,427.4 655.2,426.0 655.3,423.7ZM666.3,442.4 668.0,445.5 668.2,446.2 667.8,450.7 666.7,449.0 666.1,450.7 665.9,452.4 665.5,451.2 663.1,450.5 663.5,448.6 661.8,447.1 659.0,449.3 658.8,447.6 660.7,446.2 661.6,445.2 663.5,446.1 664.5,445.5 665.4,444.3 666.3,444.3ZM663.7,435.9 665.9,435.8 666.8,439.0 665.9,441.4 665.0,441.9 663.9,439.8 663.7,438.3ZM658.6,437.4 661.2,438.3 660.1,440.5 658.7,440.8ZM660.7,439.8 662.0,439.8 663.2,438.9 662.2,441.9 661.6,444.1 660.1,443.3 659.7,442.0ZM655.3,433.7 657.1,433.7 657.8,435.7 656.9,436.7 655.8,435.5ZM648.6,445.7 649.2,446.0 652.0,442.9 653.9,440.5 653.7,438.6 652.9,439.8 651.1,442.1 649.4,444.1ZM632.5,460.7 634.0,461.7 635.8,459.0 639.6,458.0 641.8,455.2 643.8,453.8 646.1,451.4 647.8,449.3 649.8,450.5 650.5,451.8 653.0,453.5 650.1,455.6 649.5,457.8 650.3,460.2 652.4,463.2 650.1,463.7 649.2,467.0 647.8,468.6 646.9,471.3 646.7,473.6 643.1,475.4 642.9,473.5 639.6,473.2 637.1,473.9 633.7,472.5 633.1,470.0 631.3,467.0 631.5,465.6 630.9,463.7 631.2,462.1ZM601.9,452.4 605.8,453.3 607.6,455.0 609.1,456.6 611.7,458.7 613.6,460.6 615.0,461.6 616.6,462.5 618.3,464.2 620.0,465.6 619.4,466.5 621.3,468.1 622.4,471.0 624.8,472.7 624.4,475.5 624.2,479.4 623.2,478.6 621.6,479.6 620.2,477.9 616.7,474.6 614.0,471.5 612.6,467.8 610.5,465.1 609.2,461.5 607.1,460.2 603.6,455.8 601.9,453.8ZM623.0,481.6 624.7,479.5 626.4,480.0 630.2,481.4 634.1,482.0 635.1,480.7 636.2,481.4 637.6,481.9 639.1,482.6 642.0,481.9 641.5,482.4 641.8,483.8 642.6,485.0 642.7,486.3 639.6,485.2 635.4,485.1 633.2,484.3 631.1,483.9 630.4,483.8 628.3,483.7 625.6,483.0 623.6,481.8ZM642.7,484.9 644.3,484.6 645.4,485.5 644.3,486.4 643.0,485.7ZM645.7,486.3 646.2,485.0 647.5,485.2 647.3,486.7ZM647.6,485.5 649.4,484.8 650.9,485.2 652.9,485.6 652.4,486.3 650.3,486.7 647.9,487.0ZM654.1,485.5 656.7,485.2 660.5,484.8 661.0,485.4 658.8,486.6 655.6,486.6 654.2,486.4ZM652.4,487.9 654.6,487.6 656.4,489.3 655.0,490.0 652.9,488.7ZM662.0,490.1 663.9,487.7 665.9,486.7 670.1,485.4 669.3,486.3 666.3,488.1 663.9,489.6ZM665.7,461.7 665.0,463.2 663.7,464.7 661.1,464.4 657.8,464.5 655.2,464.4 654.6,466.3 655.0,467.7 656.2,468.9 658.0,467.7 661.8,467.4 660.5,467.8 659.3,469.4 657.5,470.3 659.5,473.4 660.1,474.9 660.7,478.4 658.6,477.1 658.0,475.2 656.7,472.0 655.1,472.7 655.4,476.2 655.5,478.8 653.5,478.8 653.3,477.8 653.7,475.1 652.3,474.0 652.2,472.0 653.9,467.5 654.2,465.1 656.3,463.2 656.5,462.4 658.8,463.1 662.0,463.4 664.2,462.6ZM670.8,460.9 671.6,460.4 673.1,462.1 671.6,463.5 673.5,464.9 672.3,467.5 671.2,465.6 670.6,463.5ZM671.6,472.7 674.8,472.2 677.8,473.6 674.8,473.8 671.8,473.8ZM667.4,473.2 668.9,472.8 669.9,473.6 669.1,474.7 667.6,474.1ZM678.6,467.6 681.2,466.4 684.5,467.6 684.6,471.3 685.9,473.4 687.6,473.5 689.3,470.8 692.5,469.1 694.6,470.0 698.7,471.6 700.0,472.0 705.0,474.0 706.8,474.7 709.6,477.9 711.7,479.5 714.0,481.2 712.2,481.6 712.6,483.3 714.7,486.0 715.4,486.7 717.1,486.9 718.3,489.1 720.5,489.9 719.9,490.7 717.5,490.0 714.3,489.6 712.5,488.1 710.0,486.2 709.5,484.4 706.8,483.6 704.7,485.2 703.6,486.9 704.0,487.1 701.5,487.4 699.4,487.1 698.1,485.7 695.1,484.8 692.2,485.5 693.6,482.9 694.9,481.9 693.2,478.7 690.8,477.2 688.7,476.5 686.3,475.3 683.8,474.2 682.3,475.2 680.2,472.6 683.4,471.5 684.4,471.0 681.2,470.8 679.9,469.4 677.9,468.9ZM714.9,478.8 717.5,478.6 719.2,478.5 721.3,477.2 722.2,475.5 723.5,475.8 723.2,477.4 721.5,478.8 719.6,480.3 717.5,480.4 715.1,479.5ZM720.3,471.7 722.4,472.9 724.5,475.1 725.2,476.8 724.1,475.8 722.0,473.4 720.0,472.2ZM728.4,478.4 730.1,479.5 731.2,481.7 729.9,481.4 728.8,479.8ZM702.6,491.0 704.0,494.1 705.5,499.8 706.8,499.4 708.5,502.4 709.6,505.9 710.2,508.3 711.7,511.6 714.8,513.5 716.8,516.3 719.6,518.9 720.3,522.1 721.3,523.0 723.7,525.2 725.4,525.1 725.3,528.1 725.9,530.9 726.1,533.9 726.3,535.1 725.3,539.4 724.7,542.4 722.4,546.2 721.3,548.7 720.3,552.0 719.0,554.4 718.4,557.4 718.5,558.5 714.3,559.6 710.9,563.0 708.5,561.2 707.1,560.7 704.7,562.2 702.6,561.0 700.6,561.0 698.6,560.0 696.7,557.5 694.9,553.2 693.2,553.4 694.0,551.5 693.2,549.6 692.4,552.0 690.6,552.6 691.9,549.1 692.8,547.0 692.5,545.1 692.1,546.6 690.7,548.3 688.5,551.1 688.7,551.7 687.0,550.4 684.8,545.9 683.8,544.2 678.4,542.5 673.5,543.0 667.4,544.6 663.1,546.4 662.9,548.0 658.6,548.7 654.6,549.0 650.1,551.9 646.0,551.4 644.2,550.1 643.9,547.8 645.2,547.2 645.5,543.8 643.9,539.9 643.0,535.4 642.1,532.7 639.9,528.8 641.0,525.6 640.6,522.1 642.1,517.9 642.6,519.6 644.1,517.5 647.8,515.1 651.6,514.2 655.6,512.7 657.8,510.8 659.3,508.4 660.7,504.7 662.2,506.9 662.2,504.2 663.9,502.5 665.2,501.0 669.4,498.3 671.2,499.6 672.1,501.0 673.8,500.9 675.0,501.0 674.8,499.4 675.9,497.2 677.7,495.1 679.9,494.5 681.4,494.3 679.7,492.3 682.3,493.1 684.8,494.1 688.5,494.1 690.4,494.5 690.7,494.9 688.7,497.2 688.5,499.4 687.4,500.7 688.7,502.5 690.8,503.5 693.0,505.2 696.2,507.3 699.0,507.2 700.2,503.5 700.7,500.1 700.6,497.7 701.2,495.6 701.7,492.6ZM707.2,567.3 710.8,568.6 714.3,567.5 714.9,569.0 714.9,571.6 714.2,574.4 711.7,575.7 710.1,575.4 709.8,574.7 708.3,571.6 707.2,568.7ZM767.0,550.2 767.7,550.1 770.2,552.3 770.9,554.0 771.4,555.2 772.5,557.1 772.6,555.7 773.8,557.1 774.4,558.8 776.1,559.7 778.3,558.6 779.4,559.0 778.3,561.8 778.1,563.3 775.9,564.0 776.4,564.4 774.4,567.9 772.5,569.9 771.4,569.2 771.9,567.6 771.9,565.3 770.4,564.3 769.2,563.4 769.8,562.8 771.0,561.8 771.4,560.1 770.8,557.3 770.1,555.5 768.4,553.2 767.8,552.3ZM767.0,566.8 767.6,567.6 768.1,568.9 770.4,568.2 770.3,570.2 769.1,572.2 767.8,574.0 767.8,576.3 765.5,577.0 763.9,577.9 763.3,579.9 762.8,582.1 760.8,583.9 759.1,584.6 757.7,584.3 755.9,583.3 754.0,583.1 753.6,582.3 754.6,579.6 756.5,578.5 758.2,576.7 759.1,576.3 761.2,574.7 763.2,573.0 763.8,572.3 764.3,570.3 765.7,568.9 765.9,567.6ZM756.1,584.8 757.4,585.2 757.2,586.1 756.1,586.3 755.7,585.5ZM732.4,481.4 734.8,482.9 734.3,483.3 732.4,482.2ZM736.7,483.6 739.5,485.5 739.0,486.0 736.7,484.3ZM776.8,507.6 778.3,507.0 779.8,508.3 778.7,509.2 777.0,508.8Z" fill="#70c494" fill-rule="evenodd" stroke="#fff" stroke-width="0.9" stroke-linejoin="round"/></g>
<g id="borders" fill="none" stroke="#fff" stroke-width="1.25" stroke-linejoin="round" stroke-linecap="round"><path d="M393.9,378.9 394.8,380.8 395.0,382.9 395.8,386.6 393.1,387.1 390.9,388.4 390.8,390.3 388.1,391.3 387.5,393.1 383.7,393.6 380.1,395.6 380.1,399.5M380.1,398.6 370.2,398.6M380.1,399.5 380.1,403.1 373.0,403.1 373.0,409.3 370.9,410.3 370.7,414.5 362.1,414.3M380.1,399.5 388.1,405.4 384.8,405.4 385.9,416.2 386.9,426.7 387.3,427.0 386.8,428.7 378.2,428.7 375.9,429.6 374.4,428.9 373.7,429.0 373.4,430.4 372.6,430.8M372.6,430.8 371.3,429.2 370.0,427.4 367.5,426.0 365.3,426.5 363.2,427.5M388.1,405.4 395.3,410.9 402.5,416.2 403.0,417.4 405.3,418.5 405.3,420.1 407.7,419.8M407.7,419.8 410.7,418.7 416.9,413.9 424.2,409.2M424.2,409.2 423.3,407.6 420.6,406.8 419.8,404.3 419.7,401.5 419.3,398.5 419.6,395.4 418.8,391.8M418.8,391.8 417.9,387.1 416.6,386.1 414.8,384.0 414.6,381.8 416.0,380.4 416.5,378.1 416.1,375.6 416.9,374.1M418.8,391.8 419.9,390.1 420.7,388.0 423.0,386.4 423.1,384.2M452.3,388.2 451.5,389.7 451.7,392.6 451.9,394.5 451.9,412.8M451.9,412.8 465.6,412.8 477.5,412.8M451.9,412.8 451.9,417.7 449.5,417.7 449.5,418.8M449.5,418.8 440.9,414.0 432.4,409.3M432.4,409.3 430.3,410.7 428.8,411.6 427.6,410.2 424.2,409.2M432.4,409.3 430.8,414.5 432.5,416.8 431.7,425.3 428.4,428.3 427.5,431.4 428.4,433.9 429.5,435.1M407.7,419.8 407.7,425.4 406.5,427.1 406.4,428.5 404.5,428.9 401.6,429.1 400.8,430.0 399.4,430.1M399.4,430.1 399.2,431.3 399.5,432.4 400.7,433.9 400.8,435.1 403.2,435.6 403.2,437.3M403.2,437.3 403.9,436.6 404.7,436.6 406.3,437.9M406.3,437.9 406.4,435.8 407.1,434.8 407.4,433.5 407.9,432.9 410.2,432.6 412.4,433.6 413.1,434.4 414.2,434.5 415.2,433.9 417.8,435.1 418.9,435.1 420.2,434.1 421.4,434.1 422.0,433.8 423.2,433.9 424.8,434.6 426.5,433.3 427.5,431.4M399.4,430.1 398.0,430.1 397.5,429.6 396.3,430.0 394.3,431.0 393.9,431.7 392.3,432.8 392.0,433.4 391.1,433.9 390.0,433.6 389.5,434.2 389.2,435.8 387.5,437.8 387.5,438.6 386.9,439.6 387.1,441.0M387.1,441.0 385.7,441.7 385.4,440.7 384.0,441.6 382.3,441.6 381.5,441.4M381.5,441.4 380.8,440.7 380.7,439.7 380.3,439.2 380.7,438.6 379.9,437.6 379.1,436.4 377.5,437.0 376.9,437.5 375.4,436.7 374.5,436.9 374.0,436.1M374.0,436.1 374.1,435.3 374.0,434.4 373.2,433.7 372.7,432.4 372.6,430.8M374.0,436.1 372.6,436.0 371.9,436.3 370.4,435.7 369.4,435.7 365.4,435.6 362.8,436.2M362.6,434.4 364.6,434.4 365.1,434.1 366.3,433.5 367.2,434.0 368.1,434.1 369.1,433.5 368.6,432.8 367.9,433.2 367.3,433.2 366.4,432.6 365.8,432.7 365.3,433.2 362.8,433.3M369.4,435.7 369.3,436.5 369.1,436.8 369.3,437.6 369.0,437.9 368.5,437.9 367.9,438.3 367.3,438.3 366.2,439.5M370.2,444.5 371.5,443.5 371.7,442.8 372.1,442.3 372.7,442.2 373.2,441.8 374.9,441.8 375.5,442.6 375.9,443.6 375.9,444.3 376.2,445.0 376.2,445.8 376.8,445.7M376.8,445.7 375.8,446.8 374.8,448.1 374.1,449.6M376.8,445.7 377.8,445.4 378.7,446.8 378.5,447.8 379.0,448.3 379.6,448.3 380.0,447.4 380.6,447.4M380.6,447.4 380.5,448.1 380.7,449.3 380.3,450.3 380.9,451.0 381.6,451.1 382.5,452.1 382.5,453.0 382.3,453.3 382.2,455.4M380.6,447.4 380.9,447.4 381.1,446.4 380.9,445.9 381.1,445.6 381.9,445.3 381.4,443.4 380.9,442.4 381.0,441.6 381.5,441.4M387.1,441.0 388.0,441.6 388.4,442.3 389.4,442.8 390.1,442.2 391.1,442.1 392.6,442.8M392.6,442.8 393.1,446.1 392.2,448.1 391.7,450.8 392.6,452.9 392.5,454.0M392.6,442.8 392.3,441.0 392.3,439.6 396.0,439.5 397.0,439.7 397.7,439.3 398.6,439.5M398.6,439.5 398.5,440.2 399.4,441.5 399.4,443.2 399.6,445.1 400.1,445.9 399.6,448.1 399.8,449.3 400.4,450.8 400.9,451.8M398.6,439.5 400.5,439.5 400.2,440.8 400.9,441.5 401.7,442.3 401.7,443.5 402.1,444.0 402.1,449.4 402.6,451.2M400.5,439.5 401.2,439.3 401.7,438.2 402.7,438.0 403.2,437.3M406.3,437.9 406.2,438.7 406.7,440.2 406.3,441.1 406.5,441.8 405.5,443.2 404.8,444.0 404.4,445.5 404.5,447.0 404.3,450.9M416.7,454.7 418.3,450.4 418.9,450.3 420.2,448.9 421.0,448.9 422.2,449.9 423.7,449.1 423.9,448.1 424.3,447.1 424.7,445.9 425.8,445.0 426.2,443.3 426.7,442.8 427.0,441.5 427.5,440.0 429.4,438.2 429.5,437.4 429.7,436.9 428.8,436.0 428.9,435.2 429.5,435.1M429.5,435.1 430.4,436.6 430.5,438.2 430.4,439.8 431.6,442.0 430.4,441.9 429.8,442.1 428.8,441.9 428.4,443.0 429.6,444.4 430.6,444.8 430.9,445.8 431.5,447.4M431.5,447.4 431.2,448.0 430.1,450.4 429.6,450.9 429.4,452.7 429.7,453.7 429.5,454.4 430.5,455.7 430.7,456.5 431.5,457.7 432.4,458.5 432.7,460.2M432.7,460.2 432.6,461.5 430.9,461.0 429.2,460.3 426.5,460.2 426.2,460.1 425.0,460.4 423.7,460.1 422.7,460.3 419.1,460.2M422.7,460.3 422.7,463.1 419.6,463.1 418.7,463.2M426.5,460.2 426.3,461.3 426.9,462.5 428.5,462.3 429.1,462.8 428.1,465.5 429.1,466.9 429.4,468.7 429.1,470.3 428.4,471.4 426.6,471.3 425.4,470.2 425.3,471.2 423.8,471.5 423.1,472.1 423.9,473.7 422.1,475.0M432.7,460.2 433.9,458.0 435.1,456.8 436.6,457.2 438.0,457.3 437.8,458.7 437.2,460.0 436.8,461.5 436.5,463.6 436.6,464.9 436.3,465.7 436.2,466.6 436.0,467.3 434.6,468.5 433.6,469.7 432.7,472.0 432.7,474.0 432.2,474.7 431.0,475.9 429.7,477.3 428.9,476.9 428.8,476.3 427.6,476.2 426.9,477.1 426.3,476.9 425.5,476.1 424.9,476.5 423.9,477.5M426.3,476.9 425.5,477.4 425.2,478.0 425.1,479.0 424.4,479.3M424.6,480.0 425.8,479.7 426.4,479.7 427.1,479.5 433.4,479.5 433.9,481.3 434.6,482.7 435.1,483.5 435.9,484.7 437.3,484.5 438.0,484.2 439.2,484.5 439.5,483.9 440.0,482.5 441.3,482.4 441.5,482.0 442.5,482.0 442.3,482.9 445.0,482.8 445.0,484.3 445.4,485.3 445.1,486.7 445.3,488.1 446.0,489.0 445.9,491.9 446.4,491.7 447.3,491.7 448.6,491.4 449.6,491.5 449.8,492.3 449.6,493.4 450.0,494.5 449.6,495.4 449.8,496.3M449.8,496.3 445.4,496.2 445.3,503.9 446.7,505.9 448.1,507.4M448.1,507.4 444.2,508.4 439.0,508.0 437.5,506.9 428.9,507.0 428.6,507.1 427.3,506.1 425.9,506.0 423.3,506.9M448.1,507.4 449.9,506.9 451.2,507.0 452.1,507.5 452.1,507.7 450.9,508.3 450.3,508.3 448.9,509.2 448.1,508.2 444.8,509.1 443.2,509.2 443.1,517.9 441.0,518.0 441.0,525.3 441.0,534.6 439.1,536.0 438.0,536.2 436.7,535.7 435.7,535.5 435.3,534.4 434.5,533.7 433.4,535.0M441.0,525.3 441.6,525.7 442.9,528.1 442.7,529.6 443.2,530.5 444.7,530.2 445.8,529.1 446.8,528.3 447.3,527.1 448.3,526.6 449.2,526.9 450.2,527.6 452.0,527.7 453.3,527.1 453.6,526.3 453.9,525.1 455.1,524.9 455.7,524.0 456.4,522.3 458.4,520.4 461.4,518.6M461.4,518.6 458.4,517.1 457.7,515.5 457.7,514.7 456.8,514.4 454.4,511.7 453.7,510.3 453.3,509.9 452.5,507.9 452.1,507.7M452.5,507.9 454.9,508.2 455.6,508.5 456.3,508.4 457.5,506.8 459.3,504.8 460.1,504.6 460.4,503.8 461.6,502.8 463.2,502.5M463.2,502.5 463.3,503.4 465.1,503.4 466.1,503.9 466.5,504.5 467.6,504.6 468.7,505.4 468.7,508.5 468.2,510.2 468.2,512.0 468.5,512.8 468.3,514.2 467.9,514.4 467.4,516.2 465.1,519.0M465.1,519.0 464.0,518.8 463.3,519.1 462.2,518.6 461.4,518.6M465.1,519.0 466.2,522.5 466.7,524.3 466.3,527.1 466.5,528.0 465.4,527.5 464.8,527.7 464.6,528.4 464.0,529.4 464.1,530.3 465.3,531.7 466.6,531.4 467.0,530.2 466.8,529.1 466.5,528.0M467.0,530.2 468.9,530.4M460.4,535.9 461.2,536.7 460.5,537.9 460.1,538.8 458.9,539.2 458.6,540.0 457.8,540.3 456.2,538.3 457.3,536.7 458.5,535.6 459.5,535.1 460.4,535.9M449.8,492.3 450.3,491.6 450.5,492.3 452.8,492.5 453.5,493.5 455.2,493.9 456.5,493.1 457.0,494.4 458.7,494.7 459.4,495.7 460.3,497.1 462.0,497.1 461.8,494.5 461.2,494.9 459.7,494.0 459.1,493.6 459.4,491.2 459.8,488.4 459.3,487.3 459.9,485.8 460.5,485.5 463.3,485.1 464.2,485.3 465.1,485.9 465.9,486.3 467.3,486.7 468.5,487.5M468.5,487.5 469.5,488.5 470.0,490.6 469.7,491.2 469.2,493.1 469.7,495.1 469.0,495.9 468.3,498.2 469.4,498.8 463.0,500.8 463.2,502.5M469.4,498.8 470.7,500.0 471.2,499.7 472.1,500.3 472.2,501.3 471.8,502.4 471.9,504.1 473.3,505.6 474.0,504.0 474.9,503.5 474.7,500.3 473.8,498.6 473.1,497.8 472.3,497.9 471.7,494.7 472.3,492.9M472.3,492.9 471.7,489.7 471.0,488.6 470.6,487.9 468.5,487.5M472.3,492.9 473.9,492.7 476.5,493.4 477.1,493.1 478.5,493.0 479.3,492.3 480.6,492.4 482.9,491.4 485.0,490.1M464.2,468.0 470.9,467.8 471.3,468.1 479.0,472.9 479.2,474.3 482.4,476.7M464.2,468.0 463.5,468.3 464.3,469.6 464.2,471.0 463.6,471.3 463.7,472.2 464.2,472.8 464.2,473.5 463.7,474.0 462.8,475.3 462.1,476.1 461.2,476.2 461.6,478.4 461.4,479.6 461.8,481.0 463.0,482.3 464.2,485.3M463.6,471.3 462.5,471.2 461.8,472.5 460.5,472.3 460.7,471.0 461.0,470.8 461.1,469.4 461.7,468.8 462.2,469.0 463.5,468.3M460.5,472.3 461.1,473.4 461.2,476.2M461.7,468.8 461.7,467.0 462.2,466.1 462.3,464.2 462.8,463.1 463.6,461.9 464.4,461.2 465.1,460.4 464.2,460.1 464.4,457.3M470.9,467.8 470.9,465.3 471.5,464.4 472.6,462.8 473.3,461.1 472.4,458.4 472.1,457.2 471.1,455.6M464.4,457.3 465.3,456.7 466.6,457.2 468.3,456.6 469.8,456.6 471.1,455.6 472.4,454.1 473.9,452.6 475.0,453.0 475.0,454.3 475.7,455.1 477.2,455.1 479.9,457.1 481.1,457.0 483.0,457.5 483.6,456.5 485.6,455.5 486.4,456.3 487.9,456.3M487.9,456.3 486.0,459.0 486.0,467.6 487.4,469.6M487.9,456.3 488.5,455.6 489.8,455.6 491.7,453.9 494.5,453.8 500.5,446.7 498.7,446.7 491.8,443.9 491.0,443.0 490.2,441.9 489.8,439.7M489.8,439.7 489.4,439.3 488.8,439.4 487.7,439.4 487.6,438.7 487.5,438.0 488.2,436.9 488.9,435.8 490.7,435.5M489.8,439.7 490.9,438.3M488.9,435.8 488.2,435.0 487.3,433.7 486.4,432.9 485.8,432.0 484.0,431.1 482.5,431.1 482.0,430.5 480.7,431.1 479.5,430.0 478.8,431.8 476.3,431.3M476.3,431.3 476.1,430.4 477.0,426.8 477.2,425.2 477.9,424.4 479.4,424.0 480.7,422.5M476.3,431.3 476.0,433.4 475.1,435.7 473.8,436.9 472.9,438.8 472.7,439.7 471.7,440.4 471.0,442.9M471.0,442.9 471.1,445.1 470.8,445.8 469.6,445.8 468.9,447.2 470.2,447.4 471.3,448.5 471.7,449.4 472.6,450.0 473.9,452.6M449.6,445.2 450.2,444.9 450.9,444.5 451.5,442.4 452.1,441.3 453.6,440.9 454.0,441.6 455.1,443.0 456.4,442.8 458.0,442.9 458.3,443.3 460.4,443.3 460.5,442.9 461.6,442.4 461.8,441.7 462.6,441.2 464.4,442.6 465.5,442.4 466.5,440.6 467.7,439.3 467.5,437.9 467.0,437.2 468.3,437.1 468.4,436.5 469.4,436.7 469.2,438.5 469.4,440.2 470.5,441.1 470.8,442.0 471.0,442.9M449.6,445.2 451.0,446.1 452.2,447.1 452.2,447.9 453.6,449.1 454.5,450.1 455.1,451.5 456.6,452.5 457.0,453.2M457.0,453.2 458.3,455.2 459.2,455.5 459.8,455.1 460.8,455.2 462.0,454.7 462.5,455.7 464.4,457.3M457.0,453.2 456.3,453.5 454.9,453.4 453.3,453.2 452.5,453.4 452.2,453.9 451.5,454.0 450.7,453.5 448.3,454.7 447.3,454.5 447.0,454.7 446.4,456.1 444.8,455.6 443.2,455.4 441.9,454.5 440.1,453.7 439.0,454.5 438.1,455.7 438.0,457.3M431.5,447.4 433.0,447.9 433.3,447.3 433.7,447.3 434.2,447.8 436.9,446.9 437.8,446.0 438.9,445.2 438.7,444.3 439.3,444.1 441.4,444.3 443.4,443.1 444.9,440.5 446.0,439.6 447.4,439.2M447.4,439.2 447.6,440.2 448.8,441.7 448.9,442.7 448.5,443.6 448.6,444.4 449.4,445.1 449.6,445.2M447.4,439.2 446.6,437.9 446.6,436.5 446.1,435.6 445.4,435.7 445.6,434.8 446.2,433.8 445.9,432.8 446.6,432.1 446.2,431.5 446.7,430.1 447.7,428.3 449.6,428.4 449.5,418.8M471.5,389.0 473.0,394.0M510.4,360.9 511.5,360.3 514.0,359.3 515.4,360.1 516.9,362.3 518.0,362.1M518.0,362.1 517.9,351.6 523.4,349.8 523.8,350.1 527.1,352.2 528.8,353.3 530.9,355.9 533.4,355.5 537.0,355.2 539.6,357.4 539.4,360.2 540.5,360.2 540.9,362.5 543.6,362.6 544.2,364.0 545.0,363.9 545.9,361.9 548.7,360.0 550.0,359.4M550.0,359.4 550.4,358.2 551.8,357.8 555.4,358.8 555.7,357.1 556.9,356.5 559.9,357.7 560.7,357.4 564.2,357.5 567.4,357.7 568.5,358.8 569.8,359.2M569.8,359.2 569.6,357.6 571.1,356.8 569.2,351.8 573.4,350.6 574.5,350.0 576.0,344.7 580.2,345.7 581.4,344.3 581.5,341.3 583.3,341.0 584.9,339.0M518.0,362.1 520.4,362.1 520.0,360.7 521.9,359.7 523.7,358.1 526.5,359.6 526.8,361.8 527.6,362.4 529.9,362.3 530.6,362.8 531.6,365.7 534.1,367.6 535.5,368.9 537.7,370.2 540.6,371.4 540.5,373.1M540.5,373.1 539.8,373.0 538.8,372.3 538.5,373.2 536.7,373.8 536.3,375.9 535.1,376.7 533.4,377.1 532.9,378.4 531.3,378.7 529.2,377.7M540.5,373.1 541.7,373.1 543.3,373.7M543.3,373.7 544.5,370.9 544.0,368.9 542.4,368.2 543.0,367.0 544.8,367.1 545.8,365.6 546.5,363.8 549.3,363.1 548.9,364.4 549.2,365.2 550.1,365.1M550.1,365.1 551.7,365.4 554.4,363.4 551.9,361.9 550.4,362.6 548.8,361.5 550.6,359.7 550.0,359.4M550.1,365.1 549.3,366.0 547.0,365.5 546.8,367.1 549.1,366.9 551.7,367.8 555.8,367.4M555.8,367.4 556.1,366.1 558.1,364.8 559.6,364.2 561.8,364.6 562.6,362.8 565.4,362.5 566.1,361.4 569.5,359.9 569.8,359.2M555.8,367.4 556.3,369.9 557.0,369.7 558.3,370.3 558.2,371.4 558.5,372.9M543.3,373.7 543.9,374.0 545.5,373.1 546.2,373.7 546.9,372.4 548.2,372.5 548.5,372.0 548.7,370.9 549.6,370.0 550.8,370.6 550.6,371.5 551.2,371.6 551.0,373.9 551.8,374.8 552.6,374.2 553.5,373.9 554.9,372.7 556.3,372.9 558.5,372.9 558.9,373.7M558.9,373.7 557.7,374.0 556.6,374.5 554.1,374.8 551.9,375.4 550.6,376.6 551.1,377.7 551.3,379.0 550.3,380.2 550.4,381.2 549.8,382.1 547.8,382.1 548.6,383.8 547.2,384.5 546.3,386.1 546.5,387.6 545.6,388.4 544.8,388.1 543.2,388.5 543.0,389.2 541.4,389.2 540.2,390.7 540.1,392.9 537.4,394.0 535.9,393.7 535.4,394.3 534.2,394.0 532.0,394.3 528.4,393.0M543.9,408.8 545.4,406.9 549.7,404.8 548.5,403.5 548.3,401.6 546.9,400.4 549.2,397.8 551.7,398.0 553.9,395.3 555.3,392.6 557.3,390.0 557.3,388.2 559.1,386.7 557.4,385.4 556.7,383.6 555.9,381.3 557.0,380.1 560.2,380.8 562.6,380.4 564.6,378.1M558.9,373.7 560.5,375.0 561.1,377.0 564.6,378.1M564.6,378.1 566.9,381.3 566.7,383.4 567.6,384.8 567.5,386.1 566.0,385.8 566.6,388.6 568.6,390.3 571.6,392.1M571.6,392.1 572.5,391.5 574.2,392.3 576.4,394.0 577.6,394.3 578.3,395.6 579.9,396.1 581.7,397.2 584.1,397.8 586.6,398.0M571.6,392.1 570.3,393.3 569.4,395.7 571.5,396.7 573.5,397.9 576.3,399.4 579.2,399.7 580.4,401.0 582.1,401.2 584.7,401.8 586.4,401.8 586.7,400.8 586.4,399.1 586.6,398.0M586.6,398.0 587.9,397.5 588.0,399.5 589.5,397.6 590.6,397.0 592.1,397.6 593.3,397.6 594.2,398.3M588.0,399.5 588.1,400.0 590.0,401.0 591.4,400.6 593.2,400.8 594.9,400.7 595.0,399.1 594.2,398.3M594.2,398.3 595.9,398.0 597.8,396.1 600.3,394.4 602.1,395.1 603.6,394.0 604.6,395.6 603.9,396.7 606.2,397.1M606.2,397.1 606.4,398.0 605.6,398.5 605.8,400.1 604.3,399.6 601.5,401.4 601.6,402.8 600.4,404.9 600.3,406.1 599.3,408.2 597.7,407.6 597.6,410.2 597.1,411.1 597.3,412.1 596.3,412.7M596.3,412.7 595.2,408.8 594.6,408.8 594.2,410.4 593.0,409.1 593.7,407.7 594.7,407.5 595.6,405.4 594.4,405.0 592.4,405.0 590.4,404.6 590.2,402.9 589.2,402.8 587.5,401.7 586.8,403.4 588.3,404.7 587.0,405.7 586.5,406.6 587.8,407.3 587.4,408.8 588.2,410.6 588.5,413.1M596.3,412.7 596.2,414.5 595.5,414.1 595.6,416.3M606.2,397.1 607.4,396.9 608.2,398.4 609.1,399.0 609.1,400.9 609.1,403.0 607.0,405.1 606.8,408.1 609.0,407.7 609.6,410.0 610.9,410.5 610.3,412.5 611.9,413.5 612.8,413.9 614.4,413.2M614.4,413.2 614.4,414.2 612.6,415.8 612.2,416.7M612.2,416.7 610.9,417.3 609.7,418.4 608.2,418.5 607.2,421.1 606.3,421.5 607.3,423.7 608.7,425.5 609.6,427.1 608.8,429.2 608.0,429.6 608.6,430.8 610.0,432.7 610.2,434.1 610.2,435.2 611.0,437.4 609.9,439.6 608.7,442.1M612.2,416.7 613.1,417.5 613.2,418.9 614.6,419.1 614.1,421.6 614.2,423.8 616.4,422.4 617.0,422.8 618.3,422.7 618.7,421.9 620.3,422.1 622.0,424.0 622.1,426.4 623.8,428.5 623.7,430.6 623.0,431.7M623.0,431.7 621.0,431.3 618.3,431.8 616.9,433.8 617.4,436.7 618.1,438.1M623.0,431.7 624.8,432.6 625.8,431.0 627.6,431.8M627.6,431.8 628.1,429.4 627.5,427.7 625.9,426.0 624.5,423.9 622.8,421.0 620.2,419.5 620.8,418.7 622.2,418.0 621.4,415.9 618.7,415.9 617.8,413.6 616.5,411.7M616.5,411.7 615.4,412.0 615.7,414.9 614.6,414.8 614.4,413.2M616.5,411.7 617.7,411.0 619.4,411.1 621.5,410.8 623.3,409.5 624.3,410.4 626.3,410.9 625.9,412.3 626.9,413.3 629.2,414.0M627.6,431.8 627.9,436.3 624.3,438.2 625.2,439.6 623.0,439.8 621.1,441.0M611.9,450.3 612.5,449.9 614.2,450.9 614.4,452.1 615.8,451.9 616.6,450.8M632.4,460.8 632.9,462.4 634.3,463.8 635.7,463.3 637.1,463.5 638.3,462.3 639.3,462.1 641.4,462.7 643.1,462.2 644.2,458.9 645.0,458.1 645.8,455.4 648.2,455.4 650.2,455.8M642.0,454.7 643.0,454.0 644.9,452.7 644.8,453.9 644.6,455.4 643.6,455.3 643.2,456.1 642.0,454.7M699.4,471.5 699.4,487.4M665.2,486.6 665.4,487.1 664.0,489.8M585.9,339.0 586.3,340.9 588.1,342.5 591.2,343.6 592.6,346.0 591.8,349.5 592.6,350.7 595.1,351.2 598.0,351.6 600.6,353.5 601.9,353.8 602.9,356.4 604.1,358.1 606.5,358.1 610.9,358.7 613.7,358.3 615.8,358.7 619.0,360.4 621.5,360.4 622.5,361.3 625.0,359.8 628.4,358.8 631.6,358.7 634.1,357.7 635.6,356.2 637.1,355.2 636.8,354.3 636.1,353.1 637.2,351.3 638.4,351.5 640.6,352.1 642.7,350.6 646.0,349.4 647.6,347.5 649.1,346.6 652.1,346.2 653.8,346.6 654.1,345.5 652.1,343.4 650.4,342.5 648.8,343.6 646.7,343.1 645.5,343.5 644.9,342.2 646.4,339.2 647.5,336.9M677.4,359.3 676.7,359.4 675.8,357.4 675.0,359.0 671.7,360.2 672.1,361.7 670.2,361.6 669.2,360.7 667.7,362.7 665.4,364.2 663.5,366.2M667.4,372.2 667.9,371.8 668.8,371.9 669.6,370.6 671.2,370.5 672.1,370.3 672.6,369.5M379.6,360.6 381.0,359.4 381.5,360.8 382.8,360.8 383.1,360.4 384.4,360.5 385.0,361.9 384.0,362.7 384.0,364.9 383.6,365.3 383.5,366.6 382.6,366.8 383.5,368.5 382.9,370.3 383.6,371.1 383.3,371.9 382.5,372.9 382.7,374.1M405.4,358.9 402.5,359.2 400.1,357.9 399.3,358.5 395.4,357.3 394.5,356.1M414.6,355.5 414.7,354.1 413.6,353.7 413.0,351.5 413.7,350.6 413.1,349.5 413.2,348.7M413.2,348.7 412.5,347.4 411.4,347.8 411.5,346.5 413.0,344.8 413.0,344.1 413.9,344.3 414.5,343.8M414.5,343.8 414.8,341.7 415.9,339.6 412.8,339.0 411.8,338.2M411.8,338.2 411.2,338.3 410.7,338.0 408.8,336.6 407.8,336.9 406.3,335.4 405.3,334.2 404.3,334.1 403.9,332.8M405.6,332.2 407.2,332.6 409.2,332.0 410.6,333.3 411.7,334.1M411.7,334.1 411.5,336.2 411.9,336.9 411.8,338.2M411.5,336.2 410.9,336.3 410.7,338.0M411.7,334.1 411.4,330.8 412.7,330.8 413.2,329.6 413.7,326.7 413.3,325.4M416.5,320.8 418.4,321.2 419.9,320.7M428.9,324.1 429.2,326.4 428.6,327.2 429.4,328.4 429.9,330.0 429.8,331.1 430.6,333.1 430.2,333.9M430.2,333.9 429.1,333.1 428.6,333.7 427.1,334.3 426.3,335.1 424.7,335.7 425.1,336.7 425.3,338.0 426.4,338.7 427.6,340.0M427.6,340.0 426.8,341.4 426.1,341.8 426.4,343.8 426.2,344.3 425.5,343.7 424.5,343.6 423.0,344.1 421.1,344.0 420.8,344.8 419.7,343.9 419.1,344.1M419.1,344.1 416.8,343.2 416.3,343.8 414.5,343.8M413.2,348.7 414.1,349.3 415.2,349.2 416.3,348.2 416.7,348.6 417.7,348.5 418.2,347.3 419.8,347.7 420.7,347.2 420.9,346.0M420.9,346.0 419.8,345.9 418.8,345.4 419.1,344.6 419.1,344.1M420.9,346.0 422.2,346.4 422.4,345.8 424.5,345.3 425.0,346.3 428.1,347.1M428.1,347.1 427.8,348.6 428.3,349.8 427.7,350.2M428.1,347.1 429.8,347.4 430.9,346.7 432.7,346.6 433.2,346.1M433.2,346.1 433.9,344.2 433.5,343.5 434.6,343.5 434.8,342.3M434.8,342.3 434.6,341.2 434.8,340.9 433.8,340.3 432.8,340.5 431.1,339.5 430.4,339.8 429.2,341.0 427.6,340.0M430.2,333.9 430.6,333.1 431.6,334.2 433.2,334.4 433.1,335.3 434.3,335.9 434.6,335.1 436.0,335.5 436.2,336.4 437.8,336.6 438.8,338.1M438.8,338.1 438.2,338.1 437.8,338.7 437.4,338.8 437.2,339.5 436.8,339.6 436.8,339.9 436.0,340.2 435.1,340.2 434.8,340.9M438.8,338.1 439.8,337.9 440.9,339.0 442.2,338.3 443.2,338.6 444.7,338.2 446.7,339.4M434.8,342.3 435.9,343.1 436.7,343.4 438.5,343.0 438.7,342.4 439.5,342.3 440.5,341.9 441.8,341.7 442.3,341.0 443.0,340.8 445.2,341.7 445.7,341.4M445.7,341.4 446.1,340.2 446.7,339.4M446.7,339.4 447.2,339.5 446.6,338.2 448.6,335.6 449.6,335.3 449.9,334.4 448.8,331.7M448.8,331.7 448.7,330.3 448.1,328.8 449.4,328.1 449.4,326.9 448.8,325.6 448.7,324.2M448.7,324.2 448.2,323.2 447.1,322.9 443.2,322.9 440.4,322.5M447.1,322.9 446.9,322.1 447.1,321.1 446.2,320.6 443.8,320.0M443.4,317.2 446.0,316.2 449.5,316.5 451.6,316.1 451.9,316.8 453.1,317.0 455.1,318.6M455.1,318.6 455.3,320.1 453.6,321.2 453.1,323.0 450.8,324.2 448.7,324.2M450.4,311.1 452.3,310.7 453.2,311.1 455.0,312.4 456.8,312.4M455.1,318.6 456.4,318.1 458.7,316.8 458.0,314.8 457.8,313.2 456.8,312.4 457.7,311.3 457.1,308.1 458.6,306.1 458.3,305.4M458.7,316.8 460.9,317.6 461.2,318.5 462.4,318.1 464.4,318.9 464.7,320.4 464.2,321.3 465.5,323.4 466.4,324.0 466.3,324.6 467.7,325.2 468.3,326.0 467.5,326.7 465.8,326.6 465.4,326.9 465.9,328.0 466.4,330.0M466.4,330.0 464.6,330.2 463.9,330.9 463.8,332.5 462.9,332.2 461.0,332.3 460.4,331.6 459.6,332.1 458.8,331.7 457.2,331.6 454.8,330.9 452.6,330.6 451.0,330.7 449.8,331.5 448.8,331.7M466.4,330.0 467.2,330.1 467.7,329.4 468.4,329.6 470.6,329.3 472.0,331.1 471.4,331.7 471.6,332.7 473.3,332.8 474.1,334.2 474.0,334.8 476.7,335.9 478.4,335.4 479.7,336.8 480.9,336.8 484.1,337.8 484.1,338.7 483.2,340.3 483.7,342.0 483.4,343.0 481.3,343.2 480.2,344.0 480.1,345.7M445.7,341.4 446.9,342.2 447.0,343.0 448.0,342.4 449.3,342.7 450.6,342.7 451.6,343.5 452.4,343.0 454.0,342.7 454.5,342.0 455.4,342.0M455.4,342.0 455.9,341.6 457.3,341.2 458.9,342.2 459.8,342.3 460.7,343.1 460.6,344.1 461.4,344.6 461.7,345.9 462.4,346.6 462.2,347.1 462.6,347.4 462.1,347.6 460.8,347.5 460.6,347.1 460.2,347.3 460.3,347.9 459.7,348.8 459.4,349.8 458.8,350.1M455.4,342.0 456.0,342.3 456.7,343.2 457.4,344.4 458.6,346.2 458.7,347.5 458.4,348.8 458.8,350.1 459.8,350.7 460.8,350.2 461.7,350.7 462.0,351.4M447.0,343.0 445.7,343.7 444.7,345.7 443.4,347.7 441.7,348.2M441.7,348.2 440.4,348.1 438.8,348.9 438.0,349.3 436.2,348.8 434.6,347.5 433.9,347.2 433.5,346.1 433.2,346.1M433.9,347.2 432.2,347.9 432.0,349.1 431.3,349.4 431.3,350.2 430.5,350.2 429.7,349.7 429.3,350.2 427.7,350.2M438.8,348.9 439.3,350.0 440.0,350.9 439.1,352.0 438.2,351.3 436.7,351.4 434.9,350.9 433.9,350.9 433.4,351.6 432.6,350.9 432.2,352.1 433.2,353.5 433.7,354.4 434.7,355.4 435.5,356.1 436.3,357.3 438.2,358.3 438.0,358.9M439.1,352.0 439.9,352.0 439.4,353.3 440.4,354.4 440.1,355.7 439.6,355.9 439.2,356.1 438.5,356.8 438.2,358.3M441.7,348.2 442.9,349.4 443.1,350.3 444.4,351.0 444.6,352.2 445.8,353.1 446.5,352.4 447.0,352.8 446.5,353.3 446.9,353.8M446.9,353.8 446.4,354.4 446.6,355.5 447.6,356.7 446.8,357.6 446.5,358.5 446.3,359.3M446.9,353.8 447.5,355.0 448.4,354.8 450.0,355.2 453.1,355.4 454.2,354.6 456.7,353.9 458.3,355.0 459.7,355.3M458.5,360.3 456.5,359.8 454.3,360.7 454.3,362.1 452.4,362.4 450.8,361.4 449.1,362.1 447.6,362.1M454.3,360.7 455.3,361.4 454.7,363.2 454.1,363.7M447.6,362.1 447.4,360.2 446.3,359.3 445.4,359.3 444.6,359.5 444.1,359.6 442.5,360.6M442.5,360.6 442.2,361.5 442.6,362.8 443.4,363.5 444.8,363.2 445.7,362.6 446.8,362.6 447.6,362.1M443.4,363.5 443.4,364.2 442.7,364.6 442.6,365.5 441.5,366.9M439.8,360.5 439.8,359.6 440.7,358.2 441.4,358.5 441.9,359.3 442.4,359.6 442.5,360.6M439.6,355.9 440.2,356.3 440.5,356.7 441.2,357.0 442.0,357.6 441.8,357.9 441.4,358.5M441.8,357.9 442.3,357.7 442.6,356.7 443.0,356.6 443.3,357.0 443.7,357.1 444.0,357.6 444.3,357.7 444.7,358.3 445.1,358.3 444.8,358.9 444.5,359.3 444.6,359.5M422.1,307.9 423.1,305.7 424.8,303.2 425.5,299.1 424.2,297.2 424.0,292.3 425.4,288.8 427.5,288.9 428.3,287.4 427.5,286.1 430.8,280.7 433.0,276.3 434.4,273.4 436.4,273.4 437.0,271.1 441.0,271.8 441.3,269.1 442.6,268.9M442.6,268.9 445.5,270.9 448.8,273.7 448.9,279.8 449.6,281.4 450.1,282.4M442.6,268.9 443.9,267.8 446.3,270.0 449.1,269.8 451.4,270.8 453.4,269.0 454.4,265.9 457.7,264.5 460.5,266.1 459.6,269.1M459.6,269.1 461.3,268.7 462.6,266.9 464.5,266.0M459.6,269.1 459.3,272.0 462.5,274.7 460.6,277.7 463.1,282.2 461.6,285.5 463.5,288.3 462.7,290.8 465.8,293.3 465.0,295.2 463.0,297.3 458.5,301.9 457.7,302.3M382.6,320.3 382.9,322.0 381.5,322.3 382.5,323.7 383.8,323.7 385.4,323.8M475.4,377.3 476.3,376.7 476.9,376.1 477.0,374.5 477.7,375.1 480.0,374.3 481.1,374.8 482.9,374.8 485.3,373.8 486.5,373.9 488.9,373.4M488.9,373.4 489.8,373.0 492.3,373.4 493.1,374.1 494.1,373.6M494.1,373.6 492.9,371.4 493.3,370.6 492.7,367.4 494.1,366.6 493.3,365.8 491.7,365.1 491.9,363.7 491.6,362.8 489.5,361.4 487.1,361.5M483.7,355.9 485.9,356.3 489.0,356.7 491.9,358.1 492.3,358.6 493.6,358.2 495.6,358.8 496.2,359.9 497.6,360.6 498.2,360.7 499.6,362.4 500.6,362.6 501.0,361.9 502.5,360.6M497.6,360.6 497.0,361.0 498.1,362.5 497.8,362.8 496.6,362.7 495.1,361.9 494.5,362.3 491.6,362.8M494.5,362.3 495.0,363.0 495.8,363.5 495.4,364.2 496.5,365.2 495.9,366.1 496.8,366.8 497.7,367.3 497.8,369.2M494.1,366.6 494.6,367.8 495.6,368.9 497.0,369.3 497.8,369.2 500.3,367.2 501.1,367.0 501.8,367.8 501.0,369.2 502.3,370.6 503.1,370.4M494.1,373.6 495.5,376.8 496.9,377.6 497.0,379.2 496.0,380.1 495.5,382.2 497.0,384.7 499.6,386.2 500.7,388.1 500.3,390.0 501.0,390.0 501.0,391.4 502.3,392.8M501.0,392.6 499.5,392.4 497.9,394.9 499.8,395.2 500.4,396.4 502.1,396.3M497.9,394.9 494.0,394.7 488.0,389.5 484.8,387.7 482.2,387.0M482.2,387.0 481.3,383.8 486.1,381.0 486.9,377.8 486.7,375.8 487.8,375.1 488.9,373.4M481.3,383.8 477.2,386.6 474.8,385.5 474.4,386.4 474.4,388.0 474.1,388.7 474.2,389.7 473.1,394.0M474.8,385.5 475.0,384.0 475.5,382.6 476.7,381.6 476.3,380.5 475.2,380.4M475.0,384.0 474.4,384.1 474.2,384.5 473.4,384.5M482.2,387.0 481.8,387.4 477.5,388.7 479.7,391.3 479.0,391.7 478.6,392.6 477.0,392.9 476.5,393.9 475.5,394.7 473.0,394.2M509.5,420.2 503.4,421.1 501.4,422.2 499.9,424.8 498.9,425.2 498.3,424.4 497.5,424.5 495.4,424.3 495.1,424.0 492.6,424.1 492.0,424.3 491.1,423.7 490.6,424.9 490.8,425.9 489.7,426.7M509.5,420.2 512.1,426.0M509.5,420.2 515.9,417.7 517.3,412.8 516.4,411.0 509.5,410.3 508.7,407.8 508.7,407.1M507.0,406.0 507.6,406.4 508.2,406.3M516.4,411.0 516.4,410.1 517.0,409.0 517.0,408.0 518.0,407.5 517.6,407.2 517.8,405.5 518.9,405.5M518.2,402.7 518.6,403.5 518.9,403.8M97.8,266.0 97.8,302.6 101.9,303.3 105.3,307.5 107.4,305.8 109.6,304.4 110.6,306.1 114.1,309.2 117.0,314.0 117.5,315.4 121.3,317.7 120.9,320.7 119.8,322.0M135.6,339.6 195.6,339.6 195.6,338.4 196.4,338.7 196.8,340.6 199.2,341.0 201.3,341.5 203.4,342.5 206.6,342.4 207.7,342.7 210.0,341.8 214.1,344.2 217.7,346.0 218.6,347.2 220.5,348.3 220.5,349.2 222.6,350.7 222.8,357.3 221.3,359.5 222.6,361.0 225.8,359.6 230.1,357.9 230.0,356.6 230.7,355.6 234.8,355.5 235.9,353.9 238.6,351.7 239.3,351.6 246.1,351.6 246.3,350.8 247.6,350.4 248.7,348.9 249.3,346.6 251.0,344.3 252.9,344.6 254.0,345.5 254.0,349.5 254.8,350.7 255.7,352.1M201.9,431.4 201.9,429.3 202.9,427.4 205.7,427.3 205.8,426.5 203.6,424.5 204.5,424.5 204.5,423.1 208.4,423.1 208.3,427.7 209.0,427.7M208.4,423.1 209.1,422.9 210.3,421.4M206.4,433.0 208.0,431.3 208.4,429.9 210.3,428.2M208.0,431.3 209.8,432.4 211.5,432.8 211.3,434.0M212.4,434.9 213.7,434.0 214.9,432.3 217.3,430.9 218.4,430.6 221.3,429.9M215.7,439.3 217.5,439.5 219.4,440.0 220.3,439.7M221.8,446.7 221.9,444.5 222.5,442.9M233.6,445.0 233.9,446.9 232.4,448.6M245.6,418.4 245.9,419.8 245.7,420.7 245.0,421.2 245.7,421.9 245.6,422.6M246.5,437.4 244.4,439.3 242.9,443.6 244.2,445.7 244.0,448.1 247.2,449.0 250.6,451.2 254.7,450.9 254.0,455.4 255.0,457.6 253.9,459.0 255.3,460.2 256.0,462.8M256.0,462.8 255.5,461.6 249.7,461.6 249.6,463.1 251.0,463.2 250.6,464.1 249.2,464.3 249.2,466.1 250.6,468.2 249.4,475.6M249.4,475.6 247.8,474.6 249.2,472.0 245.5,470.8 242.5,469.9 240.1,467.7 238.0,465.8 235.9,464.7 233.3,463.9 230.3,462.2M238.0,465.8 237.3,469.1 235.0,471.7 232.2,473.4 231.5,473.6 230.7,476.5 230.1,477.4 228.8,476.1 227.3,476.1 227.6,474.8 227.2,473.6M249.4,475.6 247.6,475.5 243.1,477.9 242.5,479.8 241.2,482.9 242.9,486.9 244.4,488.1 244.6,489.3 248.0,488.1 248.2,491.7 250.2,491.6M250.2,491.6 252.1,495.3 251.4,498.2 251.4,500.8 250.7,502.0 251.0,502.7 251.4,504.2 250.0,506.9 250.4,507.3 248.4,509.4M250.4,507.3 251.6,511.0 252.6,513.5 253.1,517.2 253.9,520.5 255.3,520.4M250.2,491.6 252.3,491.7 256.3,489.1 259.3,488.7 259.2,491.7 261.2,495.0 264.6,496.5 268.5,497.7 270.2,498.6 270.2,504.3 274.1,504.4 274.1,506.9 275.7,508.6 275.3,511.0 274.6,513.0 274.6,513.8M274.6,513.8 272.5,511.7 266.9,512.6 265.7,514.7 265.0,519.0M265.0,519.0 262.3,518.4 261.0,519.1 259.5,518.6 257.4,517.9 255.3,520.4M274.6,513.8 275.2,518.6 279.2,519.1 280.0,523.1 282.8,523.5 282.1,527.3M265.0,519.0 268.5,522.9 272.8,525.6 275.7,526.9 273.6,531.4 278.3,532.2 279.4,531.8 282.1,527.3M282.1,527.3 283.8,529.7 284.1,530.7 279.8,534.2 275.7,539.1M275.7,539.1 279.2,540.7 280.0,540.8 283.2,543.6 284.7,545.4 285.1,545.7 284.8,548.6M275.7,539.1 274.5,545.1 274.0,549.1M255.3,520.4 252.9,524.6 252.5,529.2 249.9,534.5 249.3,539.4 248.4,542.5 249.3,547.2 248.2,552.3 247.2,555.8 246.7,562.1 245.5,566.8 245.5,571.0 246.1,576.7 246.1,581.1 245.0,587.0 243.1,591.6 242.3,596.2 244.4,597.7 245.0,600.9 249.3,600.9 252.7,602.1M252.3,602.8 252.3,610.4M270.6,445.2 270.6,446.7 268.1,448.3 267.8,451.4 267.6,451.5 269.1,453.3M269.1,453.3 266.8,455.7 264.2,456.4 261.7,455.9 262.1,459.7 263.4,460.4 262.1,461.1 258.9,463.5 257.2,463.8 256.0,462.8M269.1,453.3 270.6,453.8 270.8,455.0 271.5,456.4 270.8,460.2 273.2,462.8 278.1,461.0M278.1,461.0 276.4,457.6 275.1,454.3 276.7,451.4M278.1,461.0 282.1,460.0 285.8,460.4 287.7,457.6 288.5,455.7M282.1,460.0 283.0,457.3 282.5,455.0 283.4,451.9M148.8,386.0 153.9,385.5 153.7,386.1 161.7,389.1 167.8,389.1 167.8,388.0 171.4,388.0 174.6,390.9 175.9,393.8 178.6,395.2 179.5,393.4 182.3,393.2 183.4,394.3 184.2,395.9 186.4,399.0 187.2,401.8 189.1,402.7 191.4,402.9M782.5,256.6 782.5,296.5M503.5,347.4 502.1,346.9 499.7,343.3 497.8,341.5 498.6,338.7 499.9,335.3 502.7,336.6 507.0,331.3 510.6,331.9 512.7,332.8 515.9,334.7 523.6,333.2 525.5,334.7 529.6,334.1 528.7,330.3 526.6,327.2 529.1,324.3 530.8,323.9 537.2,322.6 544.1,320.7 545.8,319.4 549.6,319.7 550.5,323.3 555.4,323.9 556.4,325.2 561.8,323.3 564.8,326.2 569.2,334.1 575.6,333.5 580.3,336.6 584.8,339.0 585.9,339.0 589.9,336.9 594.8,334.4 599.7,336.6 606.1,337.2 608.3,335.0 609.8,330.0 616.6,332.5 616.8,334.7 622.6,335.3 626.8,336.6 633.2,339.0 639.6,337.8 642.8,336.0 647.5,337.0 649.0,337.8 652.4,336.6 653.1,335.3 654.6,331.6 656.3,328.4 656.7,326.2 659.5,325.6 662.2,325.4 665.2,326.8 667.4,328.7 670.6,335.8 673.8,338.4 677.0,339.9 678.0,343.6 681.2,343.6 685.9,341.8 686.8,341.5 684.4,344.8 682.5,351.3 680.2,351.6 678.4,351.9 678.7,355.9 677.2,359.1 677.3,359.3M530.0,404.8 530.5,402.3 531.5,401.8 533.6,401.3 532.6,399.8 532.6,397.2 530.4,396.2 528.4,393.0 530.3,390.5 530.4,389.0 528.5,388.7 527.6,382.9 528.5,381.3 529.1,377.8 529.0,375.1 527.4,375.1 525.1,372.7 523.4,372.4 520.8,370.8 518.5,371.1 515.5,373.0 513.6,373.1"/></g>
</svg>
<header>
<h1 class="t b" id="title" style="font-size:38.3px;left:38.11px;top:36.98px;transform:scaleX(0.9563);">Regional Insights, 2024</h1>
</header>
<section class="stat" aria-label="Total market size">
<p class="t" id="tms1" style="font-size:28.2px;left:502.58px;top:130.03px;transform:scaleX(1.0258);">Total Market Size:</p>
<p class="t b" id="tmsb" style="font-size:29.4px;left:740.97px;top:129.01px;transform:scaleX(1.1161);">US$ 338.53</p>
<p class="t b" id="tms2" style="font-size:29.4px;left:502.97px;top:169.01px;transform:scaleX(1.0167);">Bn</p>
</section>
<div class="legend" aria-label="Legend">
<div class="sw" style="left:296px;background:#1b3766;"></div>
<p class="t b" id="lg1" style="font-size:15.4px;left:321.65px;top:640.26px;transform:scaleX(0.9278);">Dominant Region</p>
<div class="sw" style="left:497px;background:#70c494;"></div>
<p class="t b" id="lg2" style="font-size:15.4px;left:522.86px;top:640.26px;transform:scaleX(0.8926);">Fastest Growing Region</p>
</div>
<footer>
<p class="t b" id="src1" style="font-size:13.6px;left:38.37px;top:695.29px;transform:scaleX(1.0265);">Source:</p>
<p class="t" id="src2" style="font-size:13.6px;left:92.75px;top:695.29px;transform:scaleX(1.0398);">Primary Research, Desk Research, Paid subscriptions, CMI Data Repository</p>
</footer>
<div class="divider"></div>
<aside class="panel" id="panel">
<svg class="tex" width="331" height="588" viewBox="949 132 331 588" aria-hidden="true">
<defs><radialGradient id="pg1" cx="0.45" cy="0.12" r="0.55"><stop offset="0" stop-color="#fff" stop-opacity="0.05"/><stop offset="1" stop-color="#fff" stop-opacity="0"/></radialGradient></defs>
<rect x="949" y="132" width="331" height="588" fill="url(#pg1)"/>
<path d="M1280,300 L1236,345 1203,380 1196,392 1207,436 1200,489 1229,493 1235,533 1251,587 1264,631 1271,720 1280,720Z" fill="#fff" fill-opacity="0.03"/>
<path d="M990,183.5 L1280,181 1280,183 990,185.5Z" fill="#fff" fill-opacity="0.03"/>
<path d="M1136,183 L1110,250 1112,252 1138,184Z" fill="#fff" fill-opacity="0.02"/>
<rect x="1267" y="132" width="13" height="588" fill="#fff" fill-opacity="0.04"/>
</svg>
  <p class="t b" id="pct" style="font-size:51px;left:46.95px;top:137.33px;transform:scaleX(1.0317);">31.8%</p>
  <p class="t b" id="na1" style="font-size:20.7px;left:46.55px;top:193.98px;transform:scaleX(1.0362);">North America</p>
  <p class="t" id="na1b" style="font-size:20.7px;left:198.14px;top:193.98px;transform:scaleX(1.0621);">- Estimated</p>
  <p class="t" id="na2" style="font-size:20.7px;left:46.54px;top:222.88px;transform:scaleX(1.0468);">Market Revenue Share,</p>
  <p class="t" id="na3" style="font-size:20.7px;left:46.53px;top:252.28px;transform:scaleX(1.0591);">2024</p>
  <p class="t" id="mk1" style="font-size:31.5px;left:47.32px;top:336.94px;transform:scaleX(1.0488);">Green</p>
  <p class="t" id="mk2" style="font-size:31.5px;left:47.27px;top:382.14px;transform:scaleX(1.0862);">Construction</p>
  <p class="t" id="mk3" style="font-size:31.5px;left:46.21px;top:428.04px;transform:scaleX(1.1430);">Market</p>
</aside>
<div class="rule"></div>

<svg id="logo" viewBox="949 0 331 132" width="331" height="132" style="position:absolute;left:949px;top:0;" role="img" aria-label="Coherent Market Insights">
<g fill="#1f3560" stroke="#1f3560" stroke-width="0.45" font-family="'Liberation Serif',serif">
<text x="969.3" y="72.7" font-size="57" textLength="38" lengthAdjust="spacingAndGlyphs">C</text>
<text x="1016.23 1057.20 1086.96 1123.67 1150.14 1184.83" y="72.3" transform="scale(1.035,1)" font-size="47.6">HERENT</text>
</g>
<text x="915.19 941.84 962.08 982.26 1002.41 1020.19 1037.74 1048.11 1062.08 1083.87 1101.98 1115.85 1137.36 1159.72 1176.51" y="94.4" transform="scale(1.06,1)" fill="#1f3560" font-family="'Liberation Sans',sans-serif" font-size="17.6">MARKET INSIGHTS</text>
<g id="globe"><rect x="1023.29" y="48.79" width="5.52" height="5.52" rx="1.0" transform="rotate(45 1026.05 51.55)" fill="#8cc152"/><rect x="1023.29" y="57.49" width="5.52" height="5.52" rx="1.0" transform="rotate(45 1026.05 60.25)" fill="#8cc152"/><rect x="1031.99" y="48.79" width="5.52" height="5.52" rx="1.0" transform="rotate(45 1034.75 51.55)" fill="#8cc152"/><rect x="1031.99" y="57.49" width="5.52" height="5.52" rx="1.0" transform="rotate(45 1034.75 60.25)" fill="#8cc152"/><rect x="1023.86" y="42.41" width="4.38" height="4.38" rx="0.8" transform="rotate(45 1026.05 44.60)" fill="#3f7d9b"/><rect x="1023.86" y="65.01" width="4.38" height="4.38" rx="0.8" transform="rotate(45 1026.05 67.20)" fill="#3f7d9b"/><rect x="1016.91" y="49.36" width="4.38" height="4.38" rx="0.8" transform="rotate(45 1019.10 51.55)" fill="#3f7d9b"/><rect x="1039.51" y="49.36" width="4.38" height="4.38" rx="0.8" transform="rotate(45 1041.70 51.55)" fill="#3f7d9b"/><rect x="1032.56" y="42.41" width="4.38" height="4.38" rx="0.8" transform="rotate(45 1034.75 44.60)" fill="#3f7d9b"/><rect x="1032.56" y="65.01" width="4.38" height="4.38" rx="0.8" transform="rotate(45 1034.75 67.20)" fill="#3f7d9b"/><rect x="1016.91" y="58.06" width="4.38" height="4.38" rx="0.8" transform="rotate(45 1019.10 60.25)" fill="#3f7d9b"/><rect x="1039.51" y="58.06" width="4.38" height="4.38" rx="0.8" transform="rotate(45 1041.70 60.25)" fill="#3f7d9b"/><rect x="1025.38" y="38.21" width="4.2" height="2.3" rx="0.9" transform="rotate(-10.0 1027.48 39.36)" fill="#6d3b6f"/><rect x="1031.22" y="38.21" width="4.2" height="2.3" rx="0.9" transform="rotate(10.0 1033.32 39.36)" fill="#6d3b6f"/><rect x="1031.22" y="71.29" width="4.2" height="2.3" rx="0.9" transform="rotate(170.0 1033.32 72.44)" fill="#6d3b6f"/><rect x="1025.38" y="71.29" width="4.2" height="2.3" rx="0.9" transform="rotate(190.0 1027.48 72.44)" fill="#6d3b6f"/><rect x="1044.84" y="51.83" width="4.2" height="2.3" rx="0.9" transform="rotate(80.0 1046.94 52.98)" fill="#6d3b6f"/><rect x="1044.84" y="57.67" width="4.2" height="2.3" rx="0.9" transform="rotate(100.0 1046.94 58.82)" fill="#b5336b"/><rect x="1011.76" y="57.67" width="4.2" height="2.3" rx="0.9" transform="rotate(260.0 1013.86 58.82)" fill="#6d3b6f"/><rect x="1011.76" y="51.83" width="4.2" height="2.3" rx="0.9" transform="rotate(280.0 1013.86 52.98)" fill="#6d3b6f"/><rect x="1041.54" y="44.41" width="4.2" height="2.3" rx="0.9" transform="rotate(52.0 1043.64 45.56)" fill="#b5336b"/><rect x="1015.06" y="44.41" width="4.2" height="2.3" rx="0.9" transform="rotate(-52.0 1017.16 45.56)" fill="#b5336b"/><rect x="1041.54" y="65.09" width="4.2" height="2.3" rx="0.9" transform="rotate(128.0 1043.64 66.24)" fill="#b5336b"/><rect x="1015.06" y="65.09" width="4.2" height="2.3" rx="0.9" transform="rotate(232.0 1017.16 66.24)" fill="#b5336b"/></g>
</svg>
<div class="frame"></div>
</div>
</body>
</html>
